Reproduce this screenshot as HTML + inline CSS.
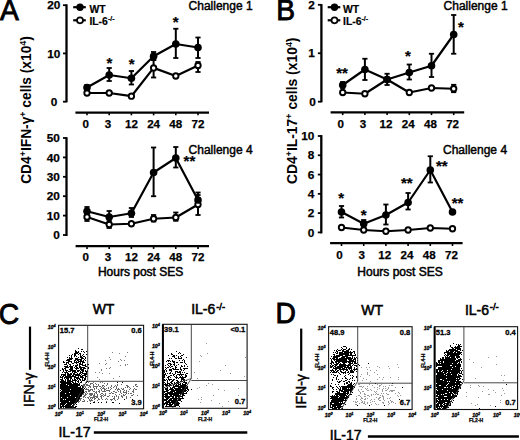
<!DOCTYPE html>
<html><head><meta charset="utf-8"><style>
html,body{margin:0;padding:0;background:#fff;}
svg{display:block;font-family:"Liberation Sans", sans-serif;}
</style></head><body>
<svg width="520" height="440" viewBox="0 0 520 440">
<defs><filter id="soft" x="-5%" y="-5%" width="110%" height="110%"><feGaussianBlur stdDeviation="0.5"/></filter></defs>
<rect width="520" height="440" fill="#fff"/>
<text transform="translate(0.0,20.1) scale(0.94,1)" font-size="30" stroke="#000" stroke-width="0.9">A</text>
<line x1="66.5" y1="4.3" x2="66.5" y2="102.3" stroke="#000" stroke-width="2.3"/>
<line x1="63.0" y1="5.2" x2="66.5" y2="5.2" stroke="#000" stroke-width="1.8"/>
<text x="60.3" y="9.4" font-size="11.8" font-weight="bold" text-anchor="end" stroke="#000" stroke-width="0.25" >20</text>
<line x1="63.0" y1="53.4" x2="66.5" y2="53.4" stroke="#000" stroke-width="1.8"/>
<text x="60.3" y="57.6" font-size="11.8" font-weight="bold" text-anchor="end" stroke="#000" stroke-width="0.25" >10</text>
<line x1="63.0" y1="101.7" x2="66.5" y2="101.7" stroke="#000" stroke-width="1.8"/>
<text x="57.2" y="105.9" font-size="11.8" font-weight="bold" text-anchor="end" stroke="#000" stroke-width="0.25" >0</text>
<line x1="75.4" y1="112.55" x2="209" y2="112.55" stroke="#000" stroke-width="2.3"/>
<line x1="87.0" y1="112.55" x2="87.0" y2="115.35" stroke="#000" stroke-width="1.6"/>
<text x="85.7" y="127.6" font-size="11.6" font-weight="bold" text-anchor="middle" stroke="#000" stroke-width="0.25" >0</text>
<line x1="109.2" y1="112.55" x2="109.2" y2="115.35" stroke="#000" stroke-width="1.6"/>
<text x="107.9" y="127.6" font-size="11.6" font-weight="bold" text-anchor="middle" stroke="#000" stroke-width="0.25" >3</text>
<line x1="131.4" y1="112.55" x2="131.4" y2="115.35" stroke="#000" stroke-width="1.6"/>
<text x="131.4" y="127.6" font-size="11.6" font-weight="bold" text-anchor="middle" stroke="#000" stroke-width="0.25" >12</text>
<line x1="153.6" y1="112.55" x2="153.6" y2="115.35" stroke="#000" stroke-width="1.6"/>
<text x="153.6" y="127.6" font-size="11.6" font-weight="bold" text-anchor="middle" stroke="#000" stroke-width="0.25" >24</text>
<line x1="175.8" y1="112.55" x2="175.8" y2="115.35" stroke="#000" stroke-width="1.6"/>
<text x="175.8" y="127.6" font-size="11.6" font-weight="bold" text-anchor="middle" stroke="#000" stroke-width="0.25" >48</text>
<line x1="198.0" y1="112.55" x2="198.0" y2="115.35" stroke="#000" stroke-width="1.6"/>
<text x="198.0" y="127.6" font-size="11.6" font-weight="bold" text-anchor="middle" stroke="#000" stroke-width="0.25" >72</text>
<line x1="87.0" y1="85" x2="87.0" y2="90" stroke="#000" stroke-width="2.0"/>
<line x1="84.4" y1="85" x2="89.6" y2="85" stroke="#000" stroke-width="1.8"/>
<line x1="84.4" y1="90" x2="89.6" y2="90" stroke="#000" stroke-width="1.8"/>
<line x1="109.2" y1="68" x2="109.2" y2="81" stroke="#000" stroke-width="2.0"/>
<line x1="106.60000000000001" y1="68" x2="111.8" y2="68" stroke="#000" stroke-width="1.8"/>
<line x1="106.60000000000001" y1="81" x2="111.8" y2="81" stroke="#000" stroke-width="1.8"/>
<line x1="131.4" y1="71" x2="131.4" y2="84.5" stroke="#000" stroke-width="2.0"/>
<line x1="128.8" y1="71" x2="134.0" y2="71" stroke="#000" stroke-width="1.8"/>
<line x1="128.8" y1="84.5" x2="134.0" y2="84.5" stroke="#000" stroke-width="1.8"/>
<line x1="153.6" y1="52" x2="153.6" y2="60" stroke="#000" stroke-width="2.0"/>
<line x1="151.0" y1="52" x2="156.2" y2="52" stroke="#000" stroke-width="1.8"/>
<line x1="151.0" y1="60" x2="156.2" y2="60" stroke="#000" stroke-width="1.8"/>
<line x1="175.8" y1="28.75" x2="175.8" y2="58" stroke="#000" stroke-width="2.0"/>
<line x1="173.20000000000002" y1="28.75" x2="178.4" y2="28.75" stroke="#000" stroke-width="1.8"/>
<line x1="173.20000000000002" y1="58" x2="178.4" y2="58" stroke="#000" stroke-width="1.8"/>
<line x1="198.0" y1="37.5" x2="198.0" y2="58" stroke="#000" stroke-width="2.0"/>
<line x1="195.4" y1="37.5" x2="200.6" y2="37.5" stroke="#000" stroke-width="1.8"/>
<line x1="195.4" y1="58" x2="200.6" y2="58" stroke="#000" stroke-width="1.8"/>
<line x1="153.6" y1="60" x2="153.6" y2="77.5" stroke="#000" stroke-width="2.0"/>
<line x1="151.0" y1="60" x2="156.2" y2="60" stroke="#000" stroke-width="1.8"/>
<line x1="151.0" y1="77.5" x2="156.2" y2="77.5" stroke="#000" stroke-width="1.8"/>
<line x1="198.0" y1="62" x2="198.0" y2="72" stroke="#000" stroke-width="2.0"/>
<line x1="195.4" y1="62" x2="200.6" y2="62" stroke="#000" stroke-width="1.8"/>
<line x1="195.4" y1="72" x2="200.6" y2="72" stroke="#000" stroke-width="1.8"/>
<polyline points="87.0,93 109.2,93 131.4,96.2 153.6,67.9 175.8,76.0 198.0,65.5" fill="none" stroke="#000" stroke-width="2.2" stroke-linejoin="round"/>
<polyline points="87.0,87.5 109.2,75 131.4,78.25 153.6,56.25 175.8,44 198.0,47.5" fill="none" stroke="#000" stroke-width="2.2" stroke-linejoin="round"/>
<circle cx="87.0" cy="93" r="2.7" fill="#fff" stroke="#000" stroke-width="1.9"/>
<circle cx="109.2" cy="93" r="2.7" fill="#fff" stroke="#000" stroke-width="1.9"/>
<circle cx="131.4" cy="96.2" r="2.7" fill="#fff" stroke="#000" stroke-width="1.9"/>
<circle cx="153.6" cy="67.9" r="2.7" fill="#fff" stroke="#000" stroke-width="1.9"/>
<circle cx="175.8" cy="76.0" r="2.7" fill="#fff" stroke="#000" stroke-width="1.9"/>
<circle cx="198.0" cy="65.5" r="2.7" fill="#fff" stroke="#000" stroke-width="1.9"/>
<circle cx="87.0" cy="87.5" r="3.8" fill="#000"/>
<circle cx="109.2" cy="75" r="3.8" fill="#000"/>
<circle cx="131.4" cy="78.25" r="3.8" fill="#000"/>
<circle cx="153.6" cy="56.25" r="3.8" fill="#000"/>
<circle cx="175.8" cy="44" r="3.8" fill="#000"/>
<circle cx="198.0" cy="47.5" r="3.8" fill="#000"/>
<text x="109.5" y="67.7" font-size="15" font-weight="bold" text-anchor="middle" stroke="#000" stroke-width="0.2" >*</text>
<text x="131.75" y="68.5" font-size="15" font-weight="bold" text-anchor="middle" stroke="#000" stroke-width="0.2" >*</text>
<text x="175.75" y="27.0" font-size="15" font-weight="bold" text-anchor="middle" stroke="#000" stroke-width="0.2" >*</text>
<line x1="73.2" y1="7.2" x2="85.8" y2="7.2" stroke="#000" stroke-width="2.2"/>
<circle cx="80.0" cy="7.2" r="3.7" fill="#000"/>
<text x="89.4" y="12.7" font-size="10.4" font-weight="bold" text-anchor="start" stroke="#000" stroke-width="0.2" >WT</text>
<line x1="73.2" y1="20.3" x2="85.8" y2="20.3" stroke="#000" stroke-width="2.2"/>
<circle cx="80.0" cy="20.3" r="3.0" fill="#fff" stroke="#000" stroke-width="1.7"/>
<text x="89.4" y="25.4" font-size="10.4" font-weight="bold" stroke="#000" stroke-width="0.2">IL-6<tspan font-size="7" dy="-4">-/-</tspan></text>
<text x="188.6" y="10.2" font-size="12" font-weight="normal" text-anchor="start" stroke="#000" stroke-width="0.45" >Challenge 1</text>
<line x1="66.5" y1="137.2" x2="66.5" y2="236" stroke="#000" stroke-width="2.3"/>
<line x1="63.0" y1="235.0" x2="66.5" y2="235.0" stroke="#000" stroke-width="1.8"/>
<text x="59.8" y="239.2" font-size="11.8" font-weight="bold" text-anchor="end" stroke="#000" stroke-width="0.25" >0</text>
<line x1="63.0" y1="215.6" x2="66.5" y2="215.6" stroke="#000" stroke-width="1.8"/>
<text x="59.8" y="219.79999999999998" font-size="11.8" font-weight="bold" text-anchor="end" stroke="#000" stroke-width="0.25" >10</text>
<line x1="63.0" y1="196.2" x2="66.5" y2="196.2" stroke="#000" stroke-width="1.8"/>
<text x="59.8" y="200.39999999999998" font-size="11.8" font-weight="bold" text-anchor="end" stroke="#000" stroke-width="0.25" >20</text>
<line x1="63.0" y1="176.8" x2="66.5" y2="176.8" stroke="#000" stroke-width="1.8"/>
<text x="59.8" y="181.0" font-size="11.8" font-weight="bold" text-anchor="end" stroke="#000" stroke-width="0.25" >30</text>
<line x1="63.0" y1="157.4" x2="66.5" y2="157.4" stroke="#000" stroke-width="1.8"/>
<text x="59.8" y="161.6" font-size="11.8" font-weight="bold" text-anchor="end" stroke="#000" stroke-width="0.25" >40</text>
<line x1="63.0" y1="138.0" x2="66.5" y2="138.0" stroke="#000" stroke-width="1.8"/>
<text x="59.8" y="142.2" font-size="11.8" font-weight="bold" text-anchor="end" stroke="#000" stroke-width="0.25" >50</text>
<line x1="75.6" y1="246.1" x2="209" y2="246.1" stroke="#000" stroke-width="2.3"/>
<line x1="87.0" y1="246.1" x2="87.0" y2="248.9" stroke="#000" stroke-width="1.6"/>
<text x="85.7" y="260.8" font-size="11.6" font-weight="bold" text-anchor="middle" stroke="#000" stroke-width="0.25" >0</text>
<line x1="109.2" y1="246.1" x2="109.2" y2="248.9" stroke="#000" stroke-width="1.6"/>
<text x="107.9" y="260.8" font-size="11.6" font-weight="bold" text-anchor="middle" stroke="#000" stroke-width="0.25" >3</text>
<line x1="131.4" y1="246.1" x2="131.4" y2="248.9" stroke="#000" stroke-width="1.6"/>
<text x="131.4" y="260.8" font-size="11.6" font-weight="bold" text-anchor="middle" stroke="#000" stroke-width="0.25" >12</text>
<line x1="153.6" y1="246.1" x2="153.6" y2="248.9" stroke="#000" stroke-width="1.6"/>
<text x="153.6" y="260.8" font-size="11.6" font-weight="bold" text-anchor="middle" stroke="#000" stroke-width="0.25" >24</text>
<line x1="175.8" y1="246.1" x2="175.8" y2="248.9" stroke="#000" stroke-width="1.6"/>
<text x="175.8" y="260.8" font-size="11.6" font-weight="bold" text-anchor="middle" stroke="#000" stroke-width="0.25" >48</text>
<line x1="198.0" y1="246.1" x2="198.0" y2="248.9" stroke="#000" stroke-width="1.6"/>
<text x="198.0" y="260.8" font-size="11.6" font-weight="bold" text-anchor="middle" stroke="#000" stroke-width="0.25" >72</text>
<line x1="87.0" y1="207" x2="87.0" y2="215" stroke="#000" stroke-width="2.0"/>
<line x1="84.4" y1="207" x2="89.6" y2="207" stroke="#000" stroke-width="1.8"/>
<line x1="84.4" y1="215" x2="89.6" y2="215" stroke="#000" stroke-width="1.8"/>
<line x1="109.2" y1="211" x2="109.2" y2="222" stroke="#000" stroke-width="2.0"/>
<line x1="106.60000000000001" y1="211" x2="111.8" y2="211" stroke="#000" stroke-width="1.8"/>
<line x1="106.60000000000001" y1="222" x2="111.8" y2="222" stroke="#000" stroke-width="1.8"/>
<line x1="131.4" y1="208" x2="131.4" y2="217" stroke="#000" stroke-width="2.0"/>
<line x1="128.8" y1="208" x2="134.0" y2="208" stroke="#000" stroke-width="1.8"/>
<line x1="128.8" y1="217" x2="134.0" y2="217" stroke="#000" stroke-width="1.8"/>
<line x1="153.6" y1="147.5" x2="153.6" y2="196.25" stroke="#000" stroke-width="2.0"/>
<line x1="151.0" y1="147.5" x2="156.2" y2="147.5" stroke="#000" stroke-width="1.8"/>
<line x1="151.0" y1="196.25" x2="156.2" y2="196.25" stroke="#000" stroke-width="1.8"/>
<line x1="175.8" y1="147" x2="175.8" y2="167.5" stroke="#000" stroke-width="2.0"/>
<line x1="173.20000000000002" y1="147" x2="178.4" y2="147" stroke="#000" stroke-width="1.8"/>
<line x1="173.20000000000002" y1="167.5" x2="178.4" y2="167.5" stroke="#000" stroke-width="1.8"/>
<line x1="198.0" y1="192.5" x2="198.0" y2="205" stroke="#000" stroke-width="2.0"/>
<line x1="195.4" y1="192.5" x2="200.6" y2="192.5" stroke="#000" stroke-width="1.8"/>
<line x1="195.4" y1="205" x2="200.6" y2="205" stroke="#000" stroke-width="1.8"/>
<line x1="87.0" y1="213" x2="87.0" y2="221" stroke="#000" stroke-width="2.0"/>
<line x1="84.4" y1="213" x2="89.6" y2="213" stroke="#000" stroke-width="1.8"/>
<line x1="84.4" y1="221" x2="89.6" y2="221" stroke="#000" stroke-width="1.8"/>
<line x1="109.2" y1="220" x2="109.2" y2="228" stroke="#000" stroke-width="2.0"/>
<line x1="106.60000000000001" y1="220" x2="111.8" y2="220" stroke="#000" stroke-width="1.8"/>
<line x1="106.60000000000001" y1="228" x2="111.8" y2="228" stroke="#000" stroke-width="1.8"/>
<line x1="153.6" y1="215" x2="153.6" y2="221.5" stroke="#000" stroke-width="2.0"/>
<line x1="151.0" y1="215" x2="156.2" y2="215" stroke="#000" stroke-width="1.8"/>
<line x1="151.0" y1="221.5" x2="156.2" y2="221.5" stroke="#000" stroke-width="1.8"/>
<line x1="175.8" y1="212.5" x2="175.8" y2="220.8" stroke="#000" stroke-width="2.0"/>
<line x1="173.20000000000002" y1="212.5" x2="178.4" y2="212.5" stroke="#000" stroke-width="1.8"/>
<line x1="173.20000000000002" y1="220.8" x2="178.4" y2="220.8" stroke="#000" stroke-width="1.8"/>
<line x1="198.0" y1="195" x2="198.0" y2="215" stroke="#000" stroke-width="2.0"/>
<line x1="195.4" y1="195" x2="200.6" y2="195" stroke="#000" stroke-width="1.8"/>
<line x1="195.4" y1="215" x2="200.6" y2="215" stroke="#000" stroke-width="1.8"/>
<polyline points="87.0,217 109.2,224.5 131.4,223.75 153.6,218.75 175.8,217.5 198.0,204.5" fill="none" stroke="#000" stroke-width="2.2" stroke-linejoin="round"/>
<polyline points="87.0,211.25 109.2,217 131.4,213.25 153.6,172.5 175.8,158 198.0,200" fill="none" stroke="#000" stroke-width="2.2" stroke-linejoin="round"/>
<circle cx="87.0" cy="217" r="2.7" fill="#fff" stroke="#000" stroke-width="1.9"/>
<circle cx="109.2" cy="224.5" r="2.7" fill="#fff" stroke="#000" stroke-width="1.9"/>
<circle cx="131.4" cy="223.75" r="2.7" fill="#fff" stroke="#000" stroke-width="1.9"/>
<circle cx="153.6" cy="218.75" r="2.7" fill="#fff" stroke="#000" stroke-width="1.9"/>
<circle cx="175.8" cy="217.5" r="2.7" fill="#fff" stroke="#000" stroke-width="1.9"/>
<circle cx="198.0" cy="204.5" r="2.7" fill="#fff" stroke="#000" stroke-width="1.9"/>
<circle cx="87.0" cy="211.25" r="3.8" fill="#000"/>
<circle cx="109.2" cy="217" r="3.8" fill="#000"/>
<circle cx="131.4" cy="213.25" r="3.8" fill="#000"/>
<circle cx="153.6" cy="172.5" r="3.8" fill="#000"/>
<circle cx="175.8" cy="158" r="3.8" fill="#000"/>
<circle cx="198.0" cy="200" r="3.8" fill="#000"/>
<text x="189.4" y="166.2" font-size="15" font-weight="bold" text-anchor="middle" stroke="#000" stroke-width="0.2" >**</text>
<text x="188.6" y="153.6" font-size="12" font-weight="normal" text-anchor="start" stroke="#000" stroke-width="0.45" >Challenge 4</text>
<text x="140.6" y="275.5" font-size="12" font-weight="normal" text-anchor="middle" stroke="#000" stroke-width="0.5" >Hours post SES</text>
<text transform="translate(31.4,110) rotate(-90) scale(0.985,1)" font-size="14" font-weight="bold" text-anchor="middle">CD4<tspan font-size="9" dy="-5">+</tspan><tspan dy="5">IFN-γ</tspan><tspan font-size="9" dy="-5">+</tspan><tspan dy="5"> cells (x10</tspan><tspan font-size="9" dy="-5">4</tspan><tspan dy="5">)</tspan></text>
<text transform="translate(276.3,19.8) scale(0.94,1)" font-size="30" stroke="#000" stroke-width="0.9">B</text>
<line x1="321.4" y1="4.1" x2="321.4" y2="102.3" stroke="#000" stroke-width="2.3"/>
<line x1="317.9" y1="4.8" x2="321.4" y2="4.8" stroke="#000" stroke-width="1.8"/>
<text x="314.8" y="9.0" font-size="11.8" font-weight="bold" text-anchor="end" stroke="#000" stroke-width="0.25" >2</text>
<line x1="317.9" y1="53.25" x2="321.4" y2="53.25" stroke="#000" stroke-width="1.8"/>
<text x="314.8" y="57.45" font-size="11.8" font-weight="bold" text-anchor="end" stroke="#000" stroke-width="0.25" >1</text>
<line x1="317.9" y1="101.7" x2="321.4" y2="101.7" stroke="#000" stroke-width="1.8"/>
<text x="315.8" y="105.9" font-size="11.8" font-weight="bold" text-anchor="end" stroke="#000" stroke-width="0.25" >0</text>
<line x1="330.6" y1="112.3" x2="464.2" y2="112.3" stroke="#000" stroke-width="2.3"/>
<line x1="342.7" y1="112.3" x2="342.7" y2="115.1" stroke="#000" stroke-width="1.6"/>
<text x="340.7" y="128.2" font-size="11.6" font-weight="bold" text-anchor="middle" stroke="#000" stroke-width="0.25" >0</text>
<line x1="364.9" y1="112.3" x2="364.9" y2="115.1" stroke="#000" stroke-width="1.6"/>
<text x="362.9" y="128.2" font-size="11.6" font-weight="bold" text-anchor="middle" stroke="#000" stroke-width="0.25" >3</text>
<line x1="387.09999999999997" y1="112.3" x2="387.09999999999997" y2="115.1" stroke="#000" stroke-width="1.6"/>
<text x="385.99999999999994" y="128.2" font-size="11.6" font-weight="bold" text-anchor="middle" stroke="#000" stroke-width="0.25" >12</text>
<line x1="409.29999999999995" y1="112.3" x2="409.29999999999995" y2="115.1" stroke="#000" stroke-width="1.6"/>
<text x="408.19999999999993" y="128.2" font-size="11.6" font-weight="bold" text-anchor="middle" stroke="#000" stroke-width="0.25" >24</text>
<line x1="431.5" y1="112.3" x2="431.5" y2="115.1" stroke="#000" stroke-width="1.6"/>
<text x="430.4" y="128.2" font-size="11.6" font-weight="bold" text-anchor="middle" stroke="#000" stroke-width="0.25" >48</text>
<line x1="453.7" y1="112.3" x2="453.7" y2="115.1" stroke="#000" stroke-width="1.6"/>
<text x="452.59999999999997" y="128.2" font-size="11.6" font-weight="bold" text-anchor="middle" stroke="#000" stroke-width="0.25" >72</text>
<line x1="342.7" y1="82" x2="342.7" y2="88" stroke="#000" stroke-width="2.0"/>
<line x1="340.09999999999997" y1="82" x2="345.3" y2="82" stroke="#000" stroke-width="1.8"/>
<line x1="340.09999999999997" y1="88" x2="345.3" y2="88" stroke="#000" stroke-width="1.8"/>
<line x1="364.9" y1="58.75" x2="364.9" y2="80" stroke="#000" stroke-width="2.0"/>
<line x1="362.29999999999995" y1="58.75" x2="367.5" y2="58.75" stroke="#000" stroke-width="1.8"/>
<line x1="362.29999999999995" y1="80" x2="367.5" y2="80" stroke="#000" stroke-width="1.8"/>
<line x1="387.09999999999997" y1="73.75" x2="387.09999999999997" y2="85" stroke="#000" stroke-width="2.0"/>
<line x1="384.49999999999994" y1="73.75" x2="389.7" y2="73.75" stroke="#000" stroke-width="1.8"/>
<line x1="384.49999999999994" y1="85" x2="389.7" y2="85" stroke="#000" stroke-width="1.8"/>
<line x1="409.29999999999995" y1="64.5" x2="409.29999999999995" y2="79.5" stroke="#000" stroke-width="2.0"/>
<line x1="406.69999999999993" y1="64.5" x2="411.9" y2="64.5" stroke="#000" stroke-width="1.8"/>
<line x1="406.69999999999993" y1="79.5" x2="411.9" y2="79.5" stroke="#000" stroke-width="1.8"/>
<line x1="431.5" y1="53.75" x2="431.5" y2="77" stroke="#000" stroke-width="2.0"/>
<line x1="428.9" y1="53.75" x2="434.1" y2="53.75" stroke="#000" stroke-width="1.8"/>
<line x1="428.9" y1="77" x2="434.1" y2="77" stroke="#000" stroke-width="1.8"/>
<line x1="453.7" y1="15" x2="453.7" y2="53.75" stroke="#000" stroke-width="2.0"/>
<line x1="451.09999999999997" y1="15" x2="456.3" y2="15" stroke="#000" stroke-width="1.8"/>
<line x1="451.09999999999997" y1="53.75" x2="456.3" y2="53.75" stroke="#000" stroke-width="1.8"/>
<line x1="453.7" y1="84.8" x2="453.7" y2="92.2" stroke="#000" stroke-width="2.0"/>
<line x1="451.09999999999997" y1="84.8" x2="456.3" y2="84.8" stroke="#000" stroke-width="1.8"/>
<line x1="451.09999999999997" y1="92.2" x2="456.3" y2="92.2" stroke="#000" stroke-width="1.8"/>
<polyline points="342.7,92.5 364.9,93.75 387.09999999999997,79.5 409.29999999999995,92.5 431.5,88 453.7,88.75" fill="none" stroke="#000" stroke-width="2.2" stroke-linejoin="round"/>
<polyline points="342.7,85 364.9,69.5 387.09999999999997,79.5 409.29999999999995,72.5 431.5,65.75 453.7,34.5" fill="none" stroke="#000" stroke-width="2.2" stroke-linejoin="round"/>
<circle cx="342.7" cy="92.5" r="2.7" fill="#fff" stroke="#000" stroke-width="1.9"/>
<circle cx="364.9" cy="93.75" r="2.7" fill="#fff" stroke="#000" stroke-width="1.9"/>
<circle cx="387.09999999999997" cy="79.5" r="2.7" fill="#fff" stroke="#000" stroke-width="1.9"/>
<circle cx="409.29999999999995" cy="92.5" r="2.7" fill="#fff" stroke="#000" stroke-width="1.9"/>
<circle cx="431.5" cy="88" r="2.7" fill="#fff" stroke="#000" stroke-width="1.9"/>
<circle cx="453.7" cy="88.75" r="2.7" fill="#fff" stroke="#000" stroke-width="1.9"/>
<circle cx="342.7" cy="85" r="3.8" fill="#000"/>
<circle cx="364.9" cy="69.5" r="3.8" fill="#000"/>
<circle cx="387.09999999999997" cy="79.5" r="3.8" fill="#000"/>
<circle cx="409.29999999999995" cy="72.5" r="3.8" fill="#000"/>
<circle cx="431.5" cy="65.75" r="3.8" fill="#000"/>
<circle cx="453.7" cy="34.5" r="3.8" fill="#000"/>
<text x="342.0" y="78.0" font-size="15" font-weight="bold" text-anchor="middle" stroke="#000" stroke-width="0.2" >**</text>
<text x="408" y="61.0" font-size="15" font-weight="bold" text-anchor="middle" stroke="#000" stroke-width="0.2" >*</text>
<text x="460.8" y="31.5" font-size="15" font-weight="bold" text-anchor="middle" stroke="#000" stroke-width="0.2" >*</text>
<line x1="327.7" y1="7.2" x2="340.3" y2="7.2" stroke="#000" stroke-width="2.2"/>
<circle cx="334.5" cy="7.2" r="3.7" fill="#000"/>
<text x="343.0" y="12.7" font-size="10.4" font-weight="bold" text-anchor="start" stroke="#000" stroke-width="0.2" >WT</text>
<line x1="327.7" y1="20.3" x2="340.3" y2="20.3" stroke="#000" stroke-width="2.2"/>
<circle cx="334.5" cy="20.3" r="3.0" fill="#fff" stroke="#000" stroke-width="1.7"/>
<text x="343.0" y="25.4" font-size="10.4" font-weight="bold" stroke="#000" stroke-width="0.2">IL-6<tspan font-size="7" dy="-4">-/-</tspan></text>
<text x="443.6" y="10.2" font-size="12" font-weight="normal" text-anchor="start" stroke="#000" stroke-width="0.45" >Challenge 1</text>
<line x1="321.3" y1="135.1" x2="321.3" y2="233.4" stroke="#000" stroke-width="2.3"/>
<line x1="317.8" y1="232.4" x2="321.3" y2="232.4" stroke="#000" stroke-width="1.8"/>
<text x="314.3" y="236.6" font-size="11.8" font-weight="bold" text-anchor="end" stroke="#000" stroke-width="0.25" >0</text>
<line x1="317.8" y1="213.12" x2="321.3" y2="213.12" stroke="#000" stroke-width="1.8"/>
<text x="314.3" y="217.32" font-size="11.8" font-weight="bold" text-anchor="end" stroke="#000" stroke-width="0.25" >2</text>
<line x1="317.8" y1="193.84" x2="321.3" y2="193.84" stroke="#000" stroke-width="1.8"/>
<text x="314.3" y="198.04" font-size="11.8" font-weight="bold" text-anchor="end" stroke="#000" stroke-width="0.25" >4</text>
<line x1="317.8" y1="174.56" x2="321.3" y2="174.56" stroke="#000" stroke-width="1.8"/>
<text x="314.3" y="178.76" font-size="11.8" font-weight="bold" text-anchor="end" stroke="#000" stroke-width="0.25" >6</text>
<line x1="317.8" y1="155.28" x2="321.3" y2="155.28" stroke="#000" stroke-width="1.8"/>
<text x="314.3" y="159.48" font-size="11.8" font-weight="bold" text-anchor="end" stroke="#000" stroke-width="0.25" >8</text>
<line x1="317.8" y1="136.0" x2="321.3" y2="136.0" stroke="#000" stroke-width="1.8"/>
<text x="314.3" y="140.2" font-size="11.8" font-weight="bold" text-anchor="end" stroke="#000" stroke-width="0.25" >10</text>
<line x1="330.1" y1="243.2" x2="462.6" y2="243.2" stroke="#000" stroke-width="2.3"/>
<line x1="341.5" y1="243.2" x2="341.5" y2="246.0" stroke="#000" stroke-width="1.6"/>
<text x="339.5" y="258.5" font-size="11.6" font-weight="bold" text-anchor="middle" stroke="#000" stroke-width="0.25" >0</text>
<line x1="363.7" y1="243.2" x2="363.7" y2="246.0" stroke="#000" stroke-width="1.6"/>
<text x="361.7" y="258.5" font-size="11.6" font-weight="bold" text-anchor="middle" stroke="#000" stroke-width="0.25" >3</text>
<line x1="385.9" y1="243.2" x2="385.9" y2="246.0" stroke="#000" stroke-width="1.6"/>
<text x="384.79999999999995" y="258.5" font-size="11.6" font-weight="bold" text-anchor="middle" stroke="#000" stroke-width="0.25" >12</text>
<line x1="408.1" y1="243.2" x2="408.1" y2="246.0" stroke="#000" stroke-width="1.6"/>
<text x="407.0" y="258.5" font-size="11.6" font-weight="bold" text-anchor="middle" stroke="#000" stroke-width="0.25" >24</text>
<line x1="430.3" y1="243.2" x2="430.3" y2="246.0" stroke="#000" stroke-width="1.6"/>
<text x="429.2" y="258.5" font-size="11.6" font-weight="bold" text-anchor="middle" stroke="#000" stroke-width="0.25" >48</text>
<line x1="452.5" y1="243.2" x2="452.5" y2="246.0" stroke="#000" stroke-width="1.6"/>
<text x="451.4" y="258.5" font-size="11.6" font-weight="bold" text-anchor="middle" stroke="#000" stroke-width="0.25" >72</text>
<line x1="341.5" y1="206" x2="341.5" y2="217.5" stroke="#000" stroke-width="2.0"/>
<line x1="338.9" y1="206" x2="344.1" y2="206" stroke="#000" stroke-width="1.8"/>
<line x1="338.9" y1="217.5" x2="344.1" y2="217.5" stroke="#000" stroke-width="1.8"/>
<line x1="363.7" y1="220" x2="363.7" y2="227" stroke="#000" stroke-width="2.0"/>
<line x1="361.09999999999997" y1="220" x2="366.3" y2="220" stroke="#000" stroke-width="1.8"/>
<line x1="361.09999999999997" y1="227" x2="366.3" y2="227" stroke="#000" stroke-width="1.8"/>
<line x1="385.9" y1="204.5" x2="385.9" y2="224.5" stroke="#000" stroke-width="2.0"/>
<line x1="383.29999999999995" y1="204.5" x2="388.5" y2="204.5" stroke="#000" stroke-width="1.8"/>
<line x1="383.29999999999995" y1="224.5" x2="388.5" y2="224.5" stroke="#000" stroke-width="1.8"/>
<line x1="408.1" y1="193" x2="408.1" y2="209.5" stroke="#000" stroke-width="2.0"/>
<line x1="405.5" y1="193" x2="410.70000000000005" y2="193" stroke="#000" stroke-width="1.8"/>
<line x1="405.5" y1="209.5" x2="410.70000000000005" y2="209.5" stroke="#000" stroke-width="1.8"/>
<line x1="430.3" y1="156.25" x2="430.3" y2="182.5" stroke="#000" stroke-width="2.0"/>
<line x1="427.7" y1="156.25" x2="432.90000000000003" y2="156.25" stroke="#000" stroke-width="1.8"/>
<line x1="427.7" y1="182.5" x2="432.90000000000003" y2="182.5" stroke="#000" stroke-width="1.8"/>
<polyline points="341.5,227.5 363.7,230 385.9,231.25 408.1,230 430.3,228 452.5,228.75" fill="none" stroke="#000" stroke-width="2.2" stroke-linejoin="round"/>
<polyline points="341.5,212 363.7,223.75 385.9,215 408.1,202.5 430.3,170 452.5,212" fill="none" stroke="#000" stroke-width="2.2" stroke-linejoin="round"/>
<circle cx="341.5" cy="227.5" r="2.7" fill="#fff" stroke="#000" stroke-width="1.9"/>
<circle cx="363.7" cy="230" r="2.7" fill="#fff" stroke="#000" stroke-width="1.9"/>
<circle cx="385.9" cy="231.25" r="2.7" fill="#fff" stroke="#000" stroke-width="1.9"/>
<circle cx="408.1" cy="230" r="2.7" fill="#fff" stroke="#000" stroke-width="1.9"/>
<circle cx="430.3" cy="228" r="2.7" fill="#fff" stroke="#000" stroke-width="1.9"/>
<circle cx="452.5" cy="228.75" r="2.7" fill="#fff" stroke="#000" stroke-width="1.9"/>
<circle cx="341.5" cy="212" r="3.8" fill="#000"/>
<circle cx="363.7" cy="223.75" r="3.8" fill="#000"/>
<circle cx="385.9" cy="215" r="3.8" fill="#000"/>
<circle cx="408.1" cy="202.5" r="3.8" fill="#000"/>
<circle cx="430.3" cy="170" r="3.8" fill="#000"/>
<circle cx="452.5" cy="212" r="3.8" fill="#000"/>
<text x="341.25" y="203.0" font-size="15" font-weight="bold" text-anchor="middle" stroke="#000" stroke-width="0.2" >*</text>
<text x="363.75" y="220.0" font-size="15" font-weight="bold" text-anchor="middle" stroke="#000" stroke-width="0.2" >*</text>
<text x="406.75" y="188.0" font-size="15" font-weight="bold" text-anchor="middle" stroke="#000" stroke-width="0.2" >**</text>
<text x="441.75" y="171.25" font-size="15" font-weight="bold" text-anchor="middle" stroke="#000" stroke-width="0.2" >**</text>
<text x="457.5" y="208.0" font-size="15" font-weight="bold" text-anchor="middle" stroke="#000" stroke-width="0.2" >**</text>
<text x="443.0" y="153.6" font-size="12" font-weight="normal" text-anchor="start" stroke="#000" stroke-width="0.45" >Challenge 4</text>
<text x="400" y="275.5" font-size="12" font-weight="normal" text-anchor="middle" stroke="#000" stroke-width="0.5" >Hours post SES</text>
<text transform="translate(297,110.8) rotate(-90) scale(0.992,1)" font-size="14" font-weight="bold" text-anchor="middle">CD4<tspan font-size="9" dy="-5">+</tspan><tspan dy="5">IL-17</tspan><tspan font-size="9" dy="-5">+</tspan><tspan dy="5"> cells (x10</tspan><tspan font-size="9" dy="-5">4</tspan><tspan dy="5">)</tspan></text>
<text transform="translate(-1.35,324.15) scale(0.94,1)" font-size="30" stroke="#000" stroke-width="0.9">C</text>
<text x="103.55" y="314.4" font-size="14" font-weight="normal" text-anchor="middle" stroke="#000" stroke-width="0.55" >WT</text>
<text x="191.2" y="314.4" font-size="14" stroke="#000" stroke-width="0.55">IL-6<tspan font-size="9.5" dx="0.8" dy="-4.5">-/-</tspan></text>
<path d="M112 352h1v1h-1zM127 352h1v1h-1zM119 353h1v1h-1zM125 356h1v1h-1zM109 357h1v1h-1zM110 359h1v1h-1zM120 359h1v1h-1zM105 360h1v1h-1zM121 360h1v1h-1zM124 360h1v1h-1zM118 361h1v1h-1zM99 363h1v1h-1zM106 363h1v1h-1zM105 364h1v1h-1zM125 364h1v1h-1zM127 364h1v1h-1zM120 365h1v1h-1zM125 365h1v1h-1zM110 367h1v1h-1zM106 368h1v1h-1zM109 368h1v1h-1zM101 369h1v1h-1zM101 370h1v1h-1zM95 372h1v1h-1zM99 372h1v1h-1zM102 373h1v1h-1zM109 373h1v1h-1zM119 376h1v1h-1zM97 377h1v1h-1zM113 378h1v1h-1zM99 379h1v1h-1zM89 381h1v1h-1zM88 382h1v1h-1zM93 382h1v1h-1zM100 382h1v1h-1zM102 382h1v1h-1z" fill="#000" fill-opacity="0.5" shape-rendering="crispEdges" filter="url(#soft)"/>
<path d="M90 383h1v1h-1zM91 383h1v1h-1zM92 383h1v1h-1zM95 383h1v1h-1zM104 383h1v1h-1zM107 383h1v1h-1zM83 384h1v1h-1zM84 384h1v1h-1zM86 384h1v1h-1zM87 384h1v1h-1zM90 384h1v1h-1zM93 384h1v1h-1zM96 384h1v1h-1zM98 384h1v1h-1zM107 384h1v1h-1zM117 384h1v1h-1zM121 384h1v1h-1zM135 384h1v1h-1zM136 384h1v1h-1zM82 385h1v1h-1zM83 385h1v1h-1zM86 385h1v1h-1zM87 385h1v1h-1zM88 385h1v1h-1zM89 385h1v1h-1zM93 385h1v1h-1zM98 385h1v1h-1zM102 385h1v1h-1zM103 385h1v1h-1zM106 385h1v1h-1zM111 385h1v1h-1zM115 385h1v1h-1zM117 385h1v1h-1zM126 385h1v1h-1zM127 385h1v1h-1zM135 385h1v1h-1zM83 386h1v1h-1zM85 386h1v1h-1zM89 386h1v1h-1zM90 386h1v1h-1zM93 386h1v1h-1zM94 386h1v1h-1zM95 386h1v1h-1zM96 386h1v1h-1zM97 386h1v1h-1zM99 386h1v1h-1zM100 386h1v1h-1zM102 386h1v1h-1zM104 386h1v1h-1zM111 386h1v1h-1zM114 386h1v1h-1zM116 386h1v1h-1zM127 386h1v1h-1zM128 386h1v1h-1zM133 386h1v1h-1zM136 386h1v1h-1zM137 386h1v1h-1zM85 387h1v1h-1zM88 387h1v1h-1zM90 387h1v1h-1zM93 387h1v1h-1zM96 387h1v1h-1zM101 387h1v1h-1zM103 387h1v1h-1zM108 387h1v1h-1zM110 387h1v1h-1zM113 387h1v1h-1zM116 387h1v1h-1zM125 387h1v1h-1zM127 387h1v1h-1zM129 387h1v1h-1zM86 388h1v1h-1zM94 388h1v1h-1zM96 388h1v1h-1zM100 388h1v1h-1zM102 388h1v1h-1zM103 388h1v1h-1zM104 388h1v1h-1zM106 388h1v1h-1zM108 388h1v1h-1zM111 388h1v1h-1zM116 388h1v1h-1zM118 388h1v1h-1zM121 388h1v1h-1zM123 388h1v1h-1zM130 388h1v1h-1zM134 388h1v1h-1zM85 389h1v1h-1zM86 389h1v1h-1zM87 389h1v1h-1zM88 389h1v1h-1zM90 389h1v1h-1zM91 389h1v1h-1zM92 389h1v1h-1zM94 389h1v1h-1zM98 389h1v1h-1zM101 389h1v1h-1zM104 389h1v1h-1zM105 389h1v1h-1zM110 389h1v1h-1zM115 389h1v1h-1zM117 389h1v1h-1zM118 389h1v1h-1zM119 389h1v1h-1zM122 389h1v1h-1zM123 389h1v1h-1zM129 389h1v1h-1zM133 389h1v1h-1zM135 389h1v1h-1zM136 389h1v1h-1zM88 390h1v1h-1zM89 390h1v1h-1zM90 390h1v1h-1zM92 390h1v1h-1zM99 390h1v1h-1zM101 390h1v1h-1zM104 390h1v1h-1zM106 390h1v1h-1zM107 390h1v1h-1zM108 390h1v1h-1zM109 390h1v1h-1zM117 390h1v1h-1zM120 390h1v1h-1zM124 390h1v1h-1zM126 390h1v1h-1zM133 390h1v1h-1zM85 391h1v1h-1zM86 391h1v1h-1zM88 391h1v1h-1zM89 391h1v1h-1zM93 391h1v1h-1zM94 391h1v1h-1zM96 391h1v1h-1zM98 391h1v1h-1zM99 391h1v1h-1zM102 391h1v1h-1zM103 391h1v1h-1zM104 391h1v1h-1zM105 391h1v1h-1zM109 391h1v1h-1zM113 391h1v1h-1zM114 391h1v1h-1zM118 391h1v1h-1zM120 391h1v1h-1zM123 391h1v1h-1zM126 391h1v1h-1zM128 391h1v1h-1zM132 391h1v1h-1zM133 391h1v1h-1zM84 392h1v1h-1zM86 392h1v1h-1zM95 392h1v1h-1zM96 392h1v1h-1zM99 392h1v1h-1zM111 392h1v1h-1zM115 392h1v1h-1zM116 392h1v1h-1zM120 392h1v1h-1zM123 392h1v1h-1zM124 392h1v1h-1zM125 392h1v1h-1zM126 392h1v1h-1zM133 392h1v1h-1zM83 393h1v1h-1zM85 393h1v1h-1zM87 393h1v1h-1zM89 393h1v1h-1zM90 393h1v1h-1zM91 393h1v1h-1zM92 393h1v1h-1zM94 393h1v1h-1zM96 393h1v1h-1zM101 393h1v1h-1zM102 393h1v1h-1zM105 393h1v1h-1zM109 393h1v1h-1zM110 393h1v1h-1zM112 393h1v1h-1zM113 393h1v1h-1zM121 393h1v1h-1zM126 393h1v1h-1zM128 393h1v1h-1zM130 393h1v1h-1zM131 393h1v1h-1zM82 394h1v1h-1zM83 394h1v1h-1zM85 394h1v1h-1zM86 394h1v1h-1zM89 394h1v1h-1zM90 394h1v1h-1zM91 394h1v1h-1zM92 394h1v1h-1zM94 394h1v1h-1zM97 394h1v1h-1zM100 394h1v1h-1zM103 394h1v1h-1zM105 394h1v1h-1zM115 394h1v1h-1zM119 394h1v1h-1zM123 394h1v1h-1zM125 394h1v1h-1zM133 394h1v1h-1zM84 395h1v1h-1zM85 395h1v1h-1zM90 395h1v1h-1zM91 395h1v1h-1zM93 395h1v1h-1zM94 395h1v1h-1zM97 395h1v1h-1zM101 395h1v1h-1zM102 395h1v1h-1zM104 395h1v1h-1zM105 395h1v1h-1zM109 395h1v1h-1zM116 395h1v1h-1zM121 395h1v1h-1zM123 395h1v1h-1zM124 395h1v1h-1zM131 395h1v1h-1zM132 395h1v1h-1zM137 395h1v1h-1zM81 396h1v1h-1zM83 396h1v1h-1zM84 396h1v1h-1zM89 396h1v1h-1zM93 396h1v1h-1zM94 396h1v1h-1zM95 396h1v1h-1zM96 396h1v1h-1zM97 396h1v1h-1zM100 396h1v1h-1zM101 396h1v1h-1zM103 396h1v1h-1zM107 396h1v1h-1zM108 396h1v1h-1zM112 396h1v1h-1zM114 396h1v1h-1zM116 396h1v1h-1zM118 396h1v1h-1zM121 396h1v1h-1zM122 396h1v1h-1zM126 396h1v1h-1zM83 397h1v1h-1zM85 397h1v1h-1zM87 397h1v1h-1zM88 397h1v1h-1zM90 397h1v1h-1zM91 397h1v1h-1zM92 397h1v1h-1zM93 397h1v1h-1zM94 397h1v1h-1zM96 397h1v1h-1zM97 397h1v1h-1zM101 397h1v1h-1zM114 397h1v1h-1zM118 397h1v1h-1zM122 397h1v1h-1zM126 397h1v1h-1zM130 397h1v1h-1zM80 398h1v1h-1zM81 398h1v1h-1zM88 398h1v1h-1zM90 398h1v1h-1zM92 398h1v1h-1zM94 398h1v1h-1zM95 398h1v1h-1zM98 398h1v1h-1zM101 398h1v1h-1zM106 398h1v1h-1zM113 398h1v1h-1zM114 398h1v1h-1zM118 398h1v1h-1zM126 398h1v1h-1zM79 399h1v1h-1zM80 399h1v1h-1zM83 399h1v1h-1zM89 399h1v1h-1zM91 399h1v1h-1zM94 399h1v1h-1zM98 399h1v1h-1zM99 399h1v1h-1zM102 399h1v1h-1zM105 399h1v1h-1zM107 399h1v1h-1zM110 399h1v1h-1zM111 399h1v1h-1zM112 399h1v1h-1zM114 399h1v1h-1zM117 399h1v1h-1zM80 400h1v1h-1zM84 400h1v1h-1zM89 400h1v1h-1zM90 400h1v1h-1zM91 400h1v1h-1zM92 400h1v1h-1zM97 400h1v1h-1zM111 400h1v1h-1zM115 400h1v1h-1zM78 401h1v1h-1zM79 401h1v1h-1zM82 401h1v1h-1zM83 401h1v1h-1zM84 401h1v1h-1zM87 401h1v1h-1zM90 401h1v1h-1zM94 401h1v1h-1zM106 401h1v1h-1zM78 402h1v1h-1z" fill="#000" fill-opacity="0.6" shape-rendering="crispEdges" filter="url(#soft)"/>
<path d="M78 348h1v1h-1zM81 349h1v1h-1zM82 349h1v1h-1zM75 350h1v1h-1zM75 351h1v1h-1zM76 351h1v1h-1zM78 351h1v1h-1zM81 351h1v1h-1zM83 351h1v1h-1zM86 351h1v1h-1zM75 352h1v1h-1zM76 352h1v1h-1zM77 352h1v1h-1zM78 352h1v1h-1zM84 352h1v1h-1zM74 353h1v1h-1zM75 353h1v1h-1zM76 353h1v1h-1zM77 353h1v1h-1zM79 353h1v1h-1zM80 353h1v1h-1zM72 354h1v1h-1zM74 354h1v1h-1zM75 354h1v1h-1zM78 354h1v1h-1zM80 354h1v1h-1zM83 354h1v1h-1zM86 354h1v1h-1zM69 355h1v1h-1zM71 355h1v1h-1zM74 355h1v1h-1zM75 355h1v1h-1zM80 355h1v1h-1zM82 355h1v1h-1zM71 356h1v1h-1zM74 356h1v1h-1zM76 356h1v1h-1zM80 356h1v1h-1zM81 356h1v1h-1zM83 356h1v1h-1zM84 356h1v1h-1zM67 357h1v1h-1zM69 357h1v1h-1zM71 357h1v1h-1zM78 357h1v1h-1zM80 357h1v1h-1zM81 357h1v1h-1zM82 357h1v1h-1zM85 357h1v1h-1zM69 358h1v1h-1zM70 358h1v1h-1zM71 358h1v1h-1zM72 358h1v1h-1zM75 358h1v1h-1zM76 358h1v1h-1zM77 358h1v1h-1zM81 358h1v1h-1zM82 358h1v1h-1zM83 358h1v1h-1zM85 358h1v1h-1zM67 359h1v1h-1zM68 359h1v1h-1zM69 359h1v1h-1zM70 359h1v1h-1zM71 359h1v1h-1zM75 359h1v1h-1zM76 359h1v1h-1zM77 359h1v1h-1zM78 359h1v1h-1zM79 359h1v1h-1zM80 359h1v1h-1zM81 359h1v1h-1zM84 359h1v1h-1zM66 360h1v1h-1zM67 360h1v1h-1zM68 360h1v1h-1zM69 360h1v1h-1zM74 360h1v1h-1zM75 360h1v1h-1zM77 360h1v1h-1zM78 360h1v1h-1zM80 360h1v1h-1zM81 360h1v1h-1zM83 360h1v1h-1zM85 360h1v1h-1zM63 361h1v1h-1zM68 361h1v1h-1zM69 361h1v1h-1zM70 361h1v1h-1zM71 361h1v1h-1zM74 361h1v1h-1zM76 361h1v1h-1zM78 361h1v1h-1zM79 361h1v1h-1zM80 361h1v1h-1zM81 361h1v1h-1zM82 361h1v1h-1zM83 361h1v1h-1zM63 362h1v1h-1zM64 362h1v1h-1zM66 362h1v1h-1zM67 362h1v1h-1zM68 362h1v1h-1zM71 362h1v1h-1zM74 362h1v1h-1zM75 362h1v1h-1zM76 362h1v1h-1zM77 362h1v1h-1zM78 362h1v1h-1zM80 362h1v1h-1zM82 362h1v1h-1zM83 362h1v1h-1zM84 362h1v1h-1zM66 363h1v1h-1zM68 363h1v1h-1zM72 363h1v1h-1zM73 363h1v1h-1zM76 363h1v1h-1zM79 363h1v1h-1zM80 363h1v1h-1zM82 363h1v1h-1zM64 364h1v1h-1zM65 364h1v1h-1zM66 364h1v1h-1zM69 364h1v1h-1zM70 364h1v1h-1zM77 364h1v1h-1zM79 364h1v1h-1zM80 364h1v1h-1zM81 364h1v1h-1zM82 364h1v1h-1zM85 364h1v1h-1zM87 364h1v1h-1zM88 364h1v1h-1zM67 365h1v1h-1zM70 365h1v1h-1zM73 365h1v1h-1zM75 365h1v1h-1zM76 365h1v1h-1zM77 365h1v1h-1zM79 365h1v1h-1zM82 365h1v1h-1zM83 365h1v1h-1zM84 365h1v1h-1zM85 365h1v1h-1zM64 366h1v1h-1zM65 366h1v1h-1zM66 366h1v1h-1zM67 366h1v1h-1zM69 366h1v1h-1zM70 366h1v1h-1zM71 366h1v1h-1zM72 366h1v1h-1zM75 366h1v1h-1zM76 366h1v1h-1zM79 366h1v1h-1zM80 366h1v1h-1zM85 366h1v1h-1zM86 366h1v1h-1zM65 367h1v1h-1zM66 367h1v1h-1zM67 367h1v1h-1zM68 367h1v1h-1zM70 367h1v1h-1zM71 367h1v1h-1zM72 367h1v1h-1zM74 367h1v1h-1zM76 367h1v1h-1zM77 367h1v1h-1zM79 367h1v1h-1zM80 367h1v1h-1zM81 367h1v1h-1zM82 367h1v1h-1zM83 367h1v1h-1zM84 367h1v1h-1zM88 367h1v1h-1zM62 368h1v1h-1zM64 368h1v1h-1zM65 368h1v1h-1zM70 368h1v1h-1zM71 368h1v1h-1zM72 368h1v1h-1zM75 368h1v1h-1zM76 368h1v1h-1zM77 368h1v1h-1zM78 368h1v1h-1zM80 368h1v1h-1zM81 368h1v1h-1zM83 368h1v1h-1zM84 368h1v1h-1zM85 368h1v1h-1zM88 368h1v1h-1zM62 369h1v1h-1zM63 369h1v1h-1zM65 369h1v1h-1zM69 369h1v1h-1zM70 369h1v1h-1zM71 369h1v1h-1zM72 369h1v1h-1zM76 369h1v1h-1zM80 369h1v1h-1zM81 369h1v1h-1zM82 369h1v1h-1zM83 369h1v1h-1zM60 370h1v1h-1zM63 370h1v1h-1zM65 370h1v1h-1zM66 370h1v1h-1zM67 370h1v1h-1zM70 370h1v1h-1zM71 370h1v1h-1zM72 370h1v1h-1zM73 370h1v1h-1zM74 370h1v1h-1zM75 370h1v1h-1zM77 370h1v1h-1zM78 370h1v1h-1zM79 370h1v1h-1zM81 370h1v1h-1zM82 370h1v1h-1zM83 370h1v1h-1zM85 370h1v1h-1zM87 370h1v1h-1zM63 371h1v1h-1zM66 371h1v1h-1zM68 371h1v1h-1zM69 371h1v1h-1zM70 371h1v1h-1zM72 371h1v1h-1zM73 371h1v1h-1zM74 371h1v1h-1zM75 371h1v1h-1zM77 371h1v1h-1zM78 371h1v1h-1zM80 371h1v1h-1zM82 371h1v1h-1zM83 371h1v1h-1zM85 371h1v1h-1zM86 371h1v1h-1zM87 371h1v1h-1zM62 372h1v1h-1zM64 372h1v1h-1zM65 372h1v1h-1zM66 372h1v1h-1zM67 372h1v1h-1zM72 372h1v1h-1zM74 372h1v1h-1zM75 372h1v1h-1zM76 372h1v1h-1zM80 372h1v1h-1zM81 372h1v1h-1zM82 372h1v1h-1zM86 372h1v1h-1zM65 373h1v1h-1zM67 373h1v1h-1zM68 373h1v1h-1zM70 373h1v1h-1zM71 373h1v1h-1zM73 373h1v1h-1zM74 373h1v1h-1zM77 373h1v1h-1zM79 373h1v1h-1zM80 373h1v1h-1zM82 373h1v1h-1zM83 373h1v1h-1zM84 373h1v1h-1zM85 373h1v1h-1zM86 373h1v1h-1zM61 374h1v1h-1zM62 374h1v1h-1zM63 374h1v1h-1zM64 374h1v1h-1zM65 374h1v1h-1zM67 374h1v1h-1zM68 374h1v1h-1zM69 374h1v1h-1zM70 374h1v1h-1zM71 374h1v1h-1zM73 374h1v1h-1zM74 374h1v1h-1zM75 374h1v1h-1zM76 374h1v1h-1zM77 374h1v1h-1zM78 374h1v1h-1zM79 374h1v1h-1zM81 374h1v1h-1zM84 374h1v1h-1zM85 374h1v1h-1zM86 374h1v1h-1zM61 375h1v1h-1zM63 375h1v1h-1zM64 375h1v1h-1zM65 375h1v1h-1zM67 375h1v1h-1zM68 375h1v1h-1zM69 375h1v1h-1zM70 375h1v1h-1zM72 375h1v1h-1zM73 375h1v1h-1zM75 375h1v1h-1zM76 375h1v1h-1zM77 375h1v1h-1zM78 375h1v1h-1zM79 375h1v1h-1zM80 375h1v1h-1zM82 375h1v1h-1zM83 375h1v1h-1zM84 375h1v1h-1zM85 375h1v1h-1zM60 376h1v1h-1zM62 376h1v1h-1zM63 376h1v1h-1zM65 376h1v1h-1zM66 376h1v1h-1zM67 376h1v1h-1zM68 376h1v1h-1zM69 376h1v1h-1zM70 376h1v1h-1zM71 376h1v1h-1zM72 376h1v1h-1zM73 376h1v1h-1zM74 376h1v1h-1zM75 376h1v1h-1zM78 376h1v1h-1zM80 376h1v1h-1zM81 376h1v1h-1zM82 376h1v1h-1zM85 376h1v1h-1zM86 376h1v1h-1zM60 377h1v1h-1zM61 377h1v1h-1zM62 377h1v1h-1zM64 377h1v1h-1zM65 377h1v1h-1zM66 377h1v1h-1zM67 377h1v1h-1zM68 377h1v1h-1zM69 377h1v1h-1zM70 377h1v1h-1zM71 377h1v1h-1zM74 377h1v1h-1zM75 377h1v1h-1zM76 377h1v1h-1zM77 377h1v1h-1zM78 377h1v1h-1zM80 377h1v1h-1zM81 377h1v1h-1zM82 377h1v1h-1zM83 377h1v1h-1zM85 377h1v1h-1zM62 378h1v1h-1zM64 378h1v1h-1zM66 378h1v1h-1zM67 378h1v1h-1zM68 378h1v1h-1zM70 378h1v1h-1zM71 378h1v1h-1zM74 378h1v1h-1zM76 378h1v1h-1zM77 378h1v1h-1zM78 378h1v1h-1zM79 378h1v1h-1zM82 378h1v1h-1zM84 378h1v1h-1zM85 378h1v1h-1zM60 379h1v1h-1zM61 379h1v1h-1zM62 379h1v1h-1zM65 379h1v1h-1zM67 379h1v1h-1zM68 379h1v1h-1zM70 379h1v1h-1zM72 379h1v1h-1zM74 379h1v1h-1zM75 379h1v1h-1zM77 379h1v1h-1zM79 379h1v1h-1zM80 379h1v1h-1zM82 379h1v1h-1zM84 379h1v1h-1zM85 379h1v1h-1zM61 380h1v1h-1zM62 380h1v1h-1zM63 380h1v1h-1zM65 380h1v1h-1zM67 380h1v1h-1zM68 380h1v1h-1zM69 380h1v1h-1zM70 380h1v1h-1zM72 380h1v1h-1zM73 380h1v1h-1zM74 380h1v1h-1zM75 380h1v1h-1zM76 380h1v1h-1zM78 380h1v1h-1zM80 380h1v1h-1zM82 380h1v1h-1zM83 380h1v1h-1zM84 380h1v1h-1zM60 381h1v1h-1zM61 381h1v1h-1zM62 381h1v1h-1zM63 381h1v1h-1zM64 381h1v1h-1zM65 381h1v1h-1zM67 381h1v1h-1zM68 381h1v1h-1zM69 381h1v1h-1zM70 381h1v1h-1zM71 381h1v1h-1zM72 381h1v1h-1zM75 381h1v1h-1zM77 381h1v1h-1zM78 381h1v1h-1zM81 381h1v1h-1zM87 381h1v1h-1zM60 382h1v1h-1zM61 382h1v1h-1zM62 382h1v1h-1zM63 382h1v1h-1zM64 382h1v1h-1zM65 382h1v1h-1zM66 382h1v1h-1zM67 382h1v1h-1zM68 382h1v1h-1zM69 382h1v1h-1zM70 382h1v1h-1zM72 382h1v1h-1zM73 382h1v1h-1zM75 382h1v1h-1zM78 382h1v1h-1zM80 382h1v1h-1zM81 382h1v1h-1zM86 382h1v1h-1zM117 382h1v1h-1zM122 382h1v1h-1zM61 383h1v1h-1zM62 383h1v1h-1zM63 383h1v1h-1zM64 383h1v1h-1zM65 383h1v1h-1zM66 383h1v1h-1zM67 383h1v1h-1zM68 383h1v1h-1zM69 383h1v1h-1zM70 383h1v1h-1zM71 383h1v1h-1zM73 383h1v1h-1zM74 383h1v1h-1zM75 383h1v1h-1zM76 383h1v1h-1zM77 383h1v1h-1zM79 383h1v1h-1zM60 384h1v1h-1zM61 384h1v1h-1zM62 384h1v1h-1zM63 384h1v1h-1zM64 384h1v1h-1zM65 384h1v1h-1zM67 384h1v1h-1zM68 384h1v1h-1zM69 384h1v1h-1zM70 384h1v1h-1zM71 384h1v1h-1zM72 384h1v1h-1zM73 384h1v1h-1zM74 384h1v1h-1zM75 384h1v1h-1zM76 384h1v1h-1zM77 384h1v1h-1zM78 384h1v1h-1zM79 384h1v1h-1zM60 385h1v1h-1zM61 385h1v1h-1zM62 385h1v1h-1zM63 385h1v1h-1zM64 385h1v1h-1zM65 385h1v1h-1zM66 385h1v1h-1zM67 385h1v1h-1zM69 385h1v1h-1zM70 385h1v1h-1zM71 385h1v1h-1zM72 385h1v1h-1zM73 385h1v1h-1zM74 385h1v1h-1zM75 385h1v1h-1zM76 385h1v1h-1zM77 385h1v1h-1zM78 385h1v1h-1zM79 385h1v1h-1zM81 385h1v1h-1zM60 386h1v1h-1zM61 386h1v1h-1zM62 386h1v1h-1zM63 386h1v1h-1zM64 386h1v1h-1zM65 386h1v1h-1zM66 386h1v1h-1zM67 386h1v1h-1zM68 386h1v1h-1zM69 386h1v1h-1zM70 386h1v1h-1zM71 386h1v1h-1zM72 386h1v1h-1zM73 386h1v1h-1zM74 386h1v1h-1zM75 386h1v1h-1zM76 386h1v1h-1zM77 386h1v1h-1zM80 386h1v1h-1zM82 386h1v1h-1zM60 387h1v1h-1zM61 387h1v1h-1zM62 387h1v1h-1zM63 387h1v1h-1zM64 387h1v1h-1zM65 387h1v1h-1zM66 387h1v1h-1zM67 387h1v1h-1zM68 387h1v1h-1zM69 387h1v1h-1zM70 387h1v1h-1zM71 387h1v1h-1zM72 387h1v1h-1zM73 387h1v1h-1zM74 387h1v1h-1zM75 387h1v1h-1zM76 387h1v1h-1zM77 387h1v1h-1zM78 387h1v1h-1zM79 387h1v1h-1zM80 387h1v1h-1zM82 387h1v1h-1zM83 387h1v1h-1zM60 388h1v1h-1zM61 388h1v1h-1zM62 388h1v1h-1zM63 388h1v1h-1zM64 388h1v1h-1zM65 388h1v1h-1zM66 388h1v1h-1zM67 388h1v1h-1zM68 388h1v1h-1zM69 388h1v1h-1zM70 388h1v1h-1zM71 388h1v1h-1zM72 388h1v1h-1zM73 388h1v1h-1zM74 388h1v1h-1zM75 388h1v1h-1zM76 388h1v1h-1zM77 388h1v1h-1zM78 388h1v1h-1zM79 388h1v1h-1zM80 388h1v1h-1zM81 388h1v1h-1zM82 388h1v1h-1zM84 388h1v1h-1zM61 389h1v1h-1zM62 389h1v1h-1zM63 389h1v1h-1zM64 389h1v1h-1zM65 389h1v1h-1zM66 389h1v1h-1zM67 389h1v1h-1zM68 389h1v1h-1zM69 389h1v1h-1zM71 389h1v1h-1zM72 389h1v1h-1zM73 389h1v1h-1zM74 389h1v1h-1zM75 389h1v1h-1zM76 389h1v1h-1zM77 389h1v1h-1zM78 389h1v1h-1zM79 389h1v1h-1zM80 389h1v1h-1zM81 389h1v1h-1zM82 389h1v1h-1zM83 389h1v1h-1zM60 390h1v1h-1zM62 390h1v1h-1zM63 390h1v1h-1zM64 390h1v1h-1zM65 390h1v1h-1zM66 390h1v1h-1zM67 390h1v1h-1zM68 390h1v1h-1zM69 390h1v1h-1zM70 390h1v1h-1zM71 390h1v1h-1zM72 390h1v1h-1zM73 390h1v1h-1zM74 390h1v1h-1zM75 390h1v1h-1zM76 390h1v1h-1zM77 390h1v1h-1zM78 390h1v1h-1zM79 390h1v1h-1zM80 390h1v1h-1zM81 390h1v1h-1zM82 390h1v1h-1zM83 390h1v1h-1zM61 391h1v1h-1zM62 391h1v1h-1zM63 391h1v1h-1zM64 391h1v1h-1zM65 391h1v1h-1zM66 391h1v1h-1zM67 391h1v1h-1zM68 391h1v1h-1zM69 391h1v1h-1zM70 391h1v1h-1zM71 391h1v1h-1zM72 391h1v1h-1zM73 391h1v1h-1zM74 391h1v1h-1zM75 391h1v1h-1zM76 391h1v1h-1zM77 391h1v1h-1zM78 391h1v1h-1zM79 391h1v1h-1zM80 391h1v1h-1zM81 391h1v1h-1zM82 391h1v1h-1zM83 391h1v1h-1zM60 392h1v1h-1zM61 392h1v1h-1zM62 392h1v1h-1zM63 392h1v1h-1zM64 392h1v1h-1zM65 392h1v1h-1zM66 392h1v1h-1zM67 392h1v1h-1zM68 392h1v1h-1zM70 392h1v1h-1zM71 392h1v1h-1zM72 392h1v1h-1zM73 392h1v1h-1zM74 392h1v1h-1zM75 392h1v1h-1zM76 392h1v1h-1zM77 392h1v1h-1zM78 392h1v1h-1zM79 392h1v1h-1zM80 392h1v1h-1zM81 392h1v1h-1zM82 392h1v1h-1zM83 392h1v1h-1zM60 393h1v1h-1zM61 393h1v1h-1zM62 393h1v1h-1zM63 393h1v1h-1zM64 393h1v1h-1zM66 393h1v1h-1zM67 393h1v1h-1zM68 393h1v1h-1zM69 393h1v1h-1zM70 393h1v1h-1zM71 393h1v1h-1zM72 393h1v1h-1zM73 393h1v1h-1zM74 393h1v1h-1zM75 393h1v1h-1zM76 393h1v1h-1zM77 393h1v1h-1zM78 393h1v1h-1zM79 393h1v1h-1zM80 393h1v1h-1zM81 393h1v1h-1zM82 393h1v1h-1zM60 394h1v1h-1zM61 394h1v1h-1zM62 394h1v1h-1zM63 394h1v1h-1zM64 394h1v1h-1zM65 394h1v1h-1zM66 394h1v1h-1zM67 394h1v1h-1zM68 394h1v1h-1zM69 394h1v1h-1zM70 394h1v1h-1zM71 394h1v1h-1zM72 394h1v1h-1zM73 394h1v1h-1zM74 394h1v1h-1zM75 394h1v1h-1zM76 394h1v1h-1zM77 394h1v1h-1zM78 394h1v1h-1zM79 394h1v1h-1zM80 394h1v1h-1zM81 394h1v1h-1zM60 395h1v1h-1zM61 395h1v1h-1zM62 395h1v1h-1zM63 395h1v1h-1zM64 395h1v1h-1zM65 395h1v1h-1zM66 395h1v1h-1zM67 395h1v1h-1zM68 395h1v1h-1zM69 395h1v1h-1zM71 395h1v1h-1zM72 395h1v1h-1zM73 395h1v1h-1zM74 395h1v1h-1zM75 395h1v1h-1zM76 395h1v1h-1zM77 395h1v1h-1zM78 395h1v1h-1zM79 395h1v1h-1zM80 395h1v1h-1zM81 395h1v1h-1zM60 396h1v1h-1zM61 396h1v1h-1zM62 396h1v1h-1zM63 396h1v1h-1zM64 396h1v1h-1zM65 396h1v1h-1zM66 396h1v1h-1zM67 396h1v1h-1zM68 396h1v1h-1zM69 396h1v1h-1zM70 396h1v1h-1zM71 396h1v1h-1zM72 396h1v1h-1zM73 396h1v1h-1zM74 396h1v1h-1zM75 396h1v1h-1zM76 396h1v1h-1zM77 396h1v1h-1zM78 396h1v1h-1zM79 396h1v1h-1zM80 396h1v1h-1zM60 397h1v1h-1zM62 397h1v1h-1zM63 397h1v1h-1zM64 397h1v1h-1zM65 397h1v1h-1zM66 397h1v1h-1zM68 397h1v1h-1zM69 397h1v1h-1zM70 397h1v1h-1zM71 397h1v1h-1zM72 397h1v1h-1zM73 397h1v1h-1zM74 397h1v1h-1zM76 397h1v1h-1zM77 397h1v1h-1zM78 397h1v1h-1zM79 397h1v1h-1zM60 398h1v1h-1zM61 398h1v1h-1zM62 398h1v1h-1zM63 398h1v1h-1zM64 398h1v1h-1zM65 398h1v1h-1zM66 398h1v1h-1zM67 398h1v1h-1zM68 398h1v1h-1zM69 398h1v1h-1zM70 398h1v1h-1zM71 398h1v1h-1zM72 398h1v1h-1zM73 398h1v1h-1zM74 398h1v1h-1zM75 398h1v1h-1zM76 398h1v1h-1zM77 398h1v1h-1zM78 398h1v1h-1zM79 398h1v1h-1zM60 399h1v1h-1zM61 399h1v1h-1zM62 399h1v1h-1zM64 399h1v1h-1zM66 399h1v1h-1zM67 399h1v1h-1zM68 399h1v1h-1zM69 399h1v1h-1zM70 399h1v1h-1zM71 399h1v1h-1zM72 399h1v1h-1zM73 399h1v1h-1zM74 399h1v1h-1zM75 399h1v1h-1zM76 399h1v1h-1zM77 399h1v1h-1zM78 399h1v1h-1zM124 399h1v1h-1zM132 399h1v1h-1zM60 400h1v1h-1zM61 400h1v1h-1zM62 400h1v1h-1zM63 400h1v1h-1zM64 400h1v1h-1zM65 400h1v1h-1zM66 400h1v1h-1zM67 400h1v1h-1zM68 400h1v1h-1zM69 400h1v1h-1zM70 400h1v1h-1zM71 400h1v1h-1zM72 400h1v1h-1zM73 400h1v1h-1zM74 400h1v1h-1zM75 400h1v1h-1zM76 400h1v1h-1zM77 400h1v1h-1zM78 400h1v1h-1zM60 401h1v1h-1zM61 401h1v1h-1zM62 401h1v1h-1zM63 401h1v1h-1zM64 401h1v1h-1zM65 401h1v1h-1zM66 401h1v1h-1zM67 401h1v1h-1zM68 401h1v1h-1zM70 401h1v1h-1zM71 401h1v1h-1zM72 401h1v1h-1zM73 401h1v1h-1zM74 401h1v1h-1zM75 401h1v1h-1zM76 401h1v1h-1zM77 401h1v1h-1zM61 402h1v1h-1zM62 402h1v1h-1zM63 402h1v1h-1zM64 402h1v1h-1zM65 402h1v1h-1zM66 402h1v1h-1zM67 402h1v1h-1zM68 402h1v1h-1zM69 402h1v1h-1zM70 402h1v1h-1zM71 402h1v1h-1zM72 402h1v1h-1zM73 402h1v1h-1zM74 402h1v1h-1zM75 402h1v1h-1zM76 402h1v1h-1zM93 402h1v1h-1zM94 402h1v1h-1zM98 402h1v1h-1zM101 402h1v1h-1zM106 402h1v1h-1zM112 402h1v1h-1zM113 402h1v1h-1zM60 403h1v1h-1zM61 403h1v1h-1zM62 403h1v1h-1zM63 403h1v1h-1zM64 403h1v1h-1zM65 403h1v1h-1zM67 403h1v1h-1zM68 403h1v1h-1zM69 403h1v1h-1zM70 403h1v1h-1zM71 403h1v1h-1zM72 403h1v1h-1zM73 403h1v1h-1zM75 403h1v1h-1zM90 403h1v1h-1zM119 403h1v1h-1zM60 404h1v1h-1zM61 404h1v1h-1zM62 404h1v1h-1zM63 404h1v1h-1zM64 404h1v1h-1zM66 404h1v1h-1zM67 404h1v1h-1zM68 404h1v1h-1zM69 404h1v1h-1zM70 404h1v1h-1zM71 404h1v1h-1zM73 404h1v1h-1zM74 404h1v1h-1zM76 404h1v1h-1zM60 405h1v1h-1zM62 405h1v1h-1zM63 405h1v1h-1zM65 405h1v1h-1zM66 405h1v1h-1zM67 405h1v1h-1zM68 405h1v1h-1zM69 405h1v1h-1zM70 405h1v1h-1zM72 405h1v1h-1zM73 405h1v1h-1zM60 406h1v1h-1zM61 406h1v1h-1zM62 406h1v1h-1zM63 406h1v1h-1zM64 406h1v1h-1zM65 406h1v1h-1zM66 406h1v1h-1zM67 406h1v1h-1zM68 406h1v1h-1zM69 406h1v1h-1zM70 406h1v1h-1zM71 406h1v1h-1zM72 406h1v1h-1zM73 406h1v1h-1zM75 406h1v1h-1zM76 406h1v1h-1zM60 407h1v1h-1zM61 407h1v1h-1zM63 407h1v1h-1zM65 407h1v1h-1zM66 407h1v1h-1zM67 407h1v1h-1zM68 407h1v1h-1zM69 407h1v1h-1zM70 407h1v1h-1zM71 407h1v1h-1zM72 407h1v1h-1zM73 407h1v1h-1zM74 407h1v1h-1zM75 407h1v1h-1z" fill="#000" fill-opacity="1.0" shape-rendering="crispEdges" filter="url(#soft)"/>
<rect x="58.6" y="325.3" width="85.0" height="83.5" fill="none" stroke="#111" stroke-width="1.1"/>
<polyline points="87.7,325.3 87.7,379.3 72,408.8" fill="none" stroke="#333" stroke-width="0.9"/>
<line x1="87.7" y1="381.3" x2="143.6" y2="381.3" stroke="#333" stroke-width="0.9"/>
<text x="59.800000000000004" y="333.2" font-size="7.5" font-weight="bold" text-anchor="start" stroke="#000" stroke-width="0.3" >15.7</text>
<text x="141.79999999999998" y="333.2" font-size="7.5" font-weight="bold" text-anchor="end" stroke="#000" stroke-width="0.3" >0.6</text>
<text x="141.79999999999998" y="404.5" font-size="7.5" font-weight="bold" text-anchor="end" stroke="#000" stroke-width="0.3" >3.9</text>
<text x="55.6" y="409.20000000000005" font-size="5.2" font-weight="bold" font-style="italic" stroke="#000" stroke-width="0.3" text-anchor="end">10<tspan font-size="3.8" dy="-2">0</tspan></text>
<text x="58.6" y="415.8" font-size="5.2" font-weight="bold" font-style="italic" stroke="#000" stroke-width="0.3" text-anchor="middle">10<tspan font-size="3.8" dy="-2">0</tspan></text>
<text x="55.6" y="389.02500000000003" font-size="5.2" font-weight="bold" font-style="italic" stroke="#000" stroke-width="0.3" text-anchor="end">10<tspan font-size="3.8" dy="-2">1</tspan></text>
<text x="79.85" y="415.8" font-size="5.2" font-weight="bold" font-style="italic" stroke="#000" stroke-width="0.3" text-anchor="middle">10<tspan font-size="3.8" dy="-2">1</tspan></text>
<text x="55.6" y="368.85" font-size="5.2" font-weight="bold" font-style="italic" stroke="#000" stroke-width="0.3" text-anchor="end">10<tspan font-size="3.8" dy="-2">2</tspan></text>
<text x="101.1" y="415.8" font-size="5.2" font-weight="bold" font-style="italic" stroke="#000" stroke-width="0.3" text-anchor="middle">10<tspan font-size="3.8" dy="-2">2</tspan></text>
<text x="55.6" y="348.675" font-size="5.2" font-weight="bold" font-style="italic" stroke="#000" stroke-width="0.3" text-anchor="end">10<tspan font-size="3.8" dy="-2">3</tspan></text>
<text x="122.35" y="415.8" font-size="5.2" font-weight="bold" font-style="italic" stroke="#000" stroke-width="0.3" text-anchor="middle">10<tspan font-size="3.8" dy="-2">3</tspan></text>
<text x="55.6" y="328.50000000000006" font-size="5.2" font-weight="bold" font-style="italic" stroke="#000" stroke-width="0.3" text-anchor="end">10<tspan font-size="3.8" dy="-2">4</tspan></text>
<text x="143.6" y="415.8" font-size="5.2" font-weight="bold" font-style="italic" stroke="#000" stroke-width="0.3" text-anchor="middle">10<tspan font-size="3.8" dy="-2">4</tspan></text>
<text transform="translate(49.2,359.535) rotate(-90)" font-size="5" font-weight="bold" stroke="#000" stroke-width="0.25" text-anchor="middle">FL4-H</text>
<text x="101.1" y="421.1" font-size="5" font-weight="bold" stroke="#000" stroke-width="0.25" text-anchor="middle">FL2-H</text>
<path d="M206 343h1v1h-1zM207 353h1v1h-1zM200 355h1v1h-1zM201 356h1v1h-1zM245 357h1v1h-1zM199 361h1v1h-1zM225 365h1v1h-1zM220 370h1v1h-1zM194 372h1v1h-1zM230 373h1v1h-1zM244 376h1v1h-1zM197 378h1v1h-1zM208 383h1v1h-1zM212 384h1v1h-1zM206 385h1v1h-1zM199 387h1v1h-1zM197 388h1v1h-1zM238 388h1v1h-1zM218 389h1v1h-1zM224 390h1v1h-1zM213 395h1v1h-1zM238 395h1v1h-1zM201 397h1v1h-1zM198 399h1v1h-1zM201 399h1v1h-1zM211 400h1v1h-1zM228 401h1v1h-1zM200 402h1v1h-1zM219 403h1v1h-1zM222 406h1v1h-1z" fill="#000" fill-opacity="0.4" shape-rendering="crispEdges" filter="url(#soft)"/>
<path d="M176 351h1v1h-1zM179 352h1v1h-1zM171 353h1v1h-1zM178 353h1v1h-1zM180 353h1v1h-1zM171 354h1v1h-1zM172 354h1v1h-1zM183 354h1v1h-1zM168 355h1v1h-1zM173 355h1v1h-1zM174 355h1v1h-1zM176 355h1v1h-1zM181 355h1v1h-1zM182 355h1v1h-1zM172 356h1v1h-1zM173 356h1v1h-1zM174 356h1v1h-1zM178 356h1v1h-1zM180 356h1v1h-1zM174 357h1v1h-1zM178 357h1v1h-1zM181 357h1v1h-1zM186 357h1v1h-1zM169 358h1v1h-1zM171 358h1v1h-1zM175 358h1v1h-1zM176 358h1v1h-1zM178 358h1v1h-1zM179 358h1v1h-1zM180 358h1v1h-1zM181 358h1v1h-1zM183 359h1v1h-1zM167 360h1v1h-1zM168 360h1v1h-1zM169 360h1v1h-1zM172 360h1v1h-1zM179 360h1v1h-1zM182 360h1v1h-1zM184 360h1v1h-1zM166 361h1v1h-1zM168 361h1v1h-1zM170 361h1v1h-1zM172 361h1v1h-1zM173 361h1v1h-1zM174 361h1v1h-1zM184 361h1v1h-1zM173 362h1v1h-1zM174 362h1v1h-1zM176 362h1v1h-1zM177 362h1v1h-1zM180 362h1v1h-1zM181 362h1v1h-1zM182 362h1v1h-1zM184 362h1v1h-1zM168 363h1v1h-1zM169 363h1v1h-1zM170 363h1v1h-1zM174 363h1v1h-1zM185 363h1v1h-1zM167 364h1v1h-1zM170 364h1v1h-1zM171 364h1v1h-1zM173 364h1v1h-1zM174 364h1v1h-1zM178 364h1v1h-1zM186 364h1v1h-1zM165 365h1v1h-1zM168 365h1v1h-1zM170 365h1v1h-1zM174 365h1v1h-1zM176 365h1v1h-1zM181 365h1v1h-1zM184 365h1v1h-1zM169 366h1v1h-1zM171 366h1v1h-1zM172 366h1v1h-1zM175 366h1v1h-1zM181 366h1v1h-1zM182 366h1v1h-1zM184 366h1v1h-1zM187 366h1v1h-1zM165 367h1v1h-1zM167 367h1v1h-1zM168 367h1v1h-1zM170 367h1v1h-1zM175 367h1v1h-1zM176 367h1v1h-1zM180 367h1v1h-1zM166 368h1v1h-1zM172 368h1v1h-1zM173 368h1v1h-1zM175 368h1v1h-1zM180 368h1v1h-1zM183 368h1v1h-1zM184 368h1v1h-1zM185 368h1v1h-1zM186 368h1v1h-1zM187 368h1v1h-1zM165 369h1v1h-1zM169 369h1v1h-1zM170 369h1v1h-1zM171 369h1v1h-1zM173 369h1v1h-1zM174 369h1v1h-1zM175 369h1v1h-1zM176 369h1v1h-1zM177 369h1v1h-1zM178 369h1v1h-1zM180 369h1v1h-1zM181 369h1v1h-1zM184 369h1v1h-1zM164 370h1v1h-1zM166 370h1v1h-1zM169 370h1v1h-1zM170 370h1v1h-1zM171 370h1v1h-1zM181 370h1v1h-1zM183 370h1v1h-1zM164 371h1v1h-1zM166 371h1v1h-1zM171 371h1v1h-1zM175 371h1v1h-1zM176 371h1v1h-1zM177 371h1v1h-1zM179 371h1v1h-1zM180 371h1v1h-1zM164 372h1v1h-1zM170 372h1v1h-1zM175 372h1v1h-1zM177 372h1v1h-1zM178 372h1v1h-1zM179 372h1v1h-1zM180 372h1v1h-1zM182 372h1v1h-1zM184 372h1v1h-1zM165 373h1v1h-1zM167 373h1v1h-1zM169 373h1v1h-1zM170 373h1v1h-1zM172 373h1v1h-1zM175 373h1v1h-1zM180 373h1v1h-1zM186 373h1v1h-1zM187 373h1v1h-1zM164 374h1v1h-1zM165 374h1v1h-1zM173 374h1v1h-1zM174 374h1v1h-1zM177 374h1v1h-1zM178 374h1v1h-1zM179 374h1v1h-1zM180 374h1v1h-1zM181 374h1v1h-1zM182 374h1v1h-1zM183 374h1v1h-1zM185 374h1v1h-1zM164 375h1v1h-1zM166 375h1v1h-1zM170 375h1v1h-1zM171 375h1v1h-1zM173 375h1v1h-1zM176 375h1v1h-1zM179 375h1v1h-1zM181 375h1v1h-1zM185 375h1v1h-1zM186 375h1v1h-1zM164 376h1v1h-1zM168 376h1v1h-1zM169 376h1v1h-1zM174 376h1v1h-1zM176 376h1v1h-1zM180 376h1v1h-1zM182 376h1v1h-1zM185 376h1v1h-1zM186 376h1v1h-1zM164 377h1v1h-1zM167 377h1v1h-1zM168 377h1v1h-1zM170 377h1v1h-1zM175 377h1v1h-1zM176 377h1v1h-1zM177 377h1v1h-1zM179 377h1v1h-1zM180 377h1v1h-1zM181 377h1v1h-1zM182 377h1v1h-1zM183 377h1v1h-1zM184 377h1v1h-1zM185 377h1v1h-1zM168 378h1v1h-1zM176 378h1v1h-1zM178 378h1v1h-1zM181 378h1v1h-1zM182 378h1v1h-1zM183 378h1v1h-1zM164 379h1v1h-1zM166 379h1v1h-1zM168 379h1v1h-1zM169 379h1v1h-1zM170 379h1v1h-1zM171 379h1v1h-1zM173 379h1v1h-1zM174 379h1v1h-1zM181 379h1v1h-1zM182 379h1v1h-1zM183 379h1v1h-1zM184 379h1v1h-1zM164 380h1v1h-1zM165 380h1v1h-1zM167 380h1v1h-1zM169 380h1v1h-1zM172 380h1v1h-1zM173 380h1v1h-1zM176 380h1v1h-1zM177 380h1v1h-1zM181 380h1v1h-1zM183 380h1v1h-1zM184 380h1v1h-1zM186 380h1v1h-1zM167 381h1v1h-1zM171 381h1v1h-1zM172 381h1v1h-1zM177 381h1v1h-1zM178 381h1v1h-1zM180 381h1v1h-1zM181 381h1v1h-1zM182 381h1v1h-1zM184 381h1v1h-1zM164 382h1v1h-1zM167 382h1v1h-1zM170 382h1v1h-1zM171 382h1v1h-1zM174 382h1v1h-1zM176 382h1v1h-1zM177 382h1v1h-1zM178 382h1v1h-1zM179 382h1v1h-1zM183 382h1v1h-1zM184 382h1v1h-1zM185 382h1v1h-1zM186 382h1v1h-1zM165 383h1v1h-1zM167 383h1v1h-1zM168 383h1v1h-1zM169 383h1v1h-1zM171 383h1v1h-1zM172 383h1v1h-1zM174 383h1v1h-1zM175 383h1v1h-1zM177 383h1v1h-1zM178 383h1v1h-1zM180 383h1v1h-1zM182 383h1v1h-1zM185 383h1v1h-1zM186 383h1v1h-1zM164 384h1v1h-1zM165 384h1v1h-1zM166 384h1v1h-1zM167 384h1v1h-1zM169 384h1v1h-1zM170 384h1v1h-1zM173 384h1v1h-1zM174 384h1v1h-1zM176 384h1v1h-1zM178 384h1v1h-1zM179 384h1v1h-1zM180 384h1v1h-1zM182 384h1v1h-1zM183 384h1v1h-1zM184 384h1v1h-1zM185 384h1v1h-1zM165 385h1v1h-1zM166 385h1v1h-1zM167 385h1v1h-1zM168 385h1v1h-1zM169 385h1v1h-1zM170 385h1v1h-1zM171 385h1v1h-1zM173 385h1v1h-1zM175 385h1v1h-1zM176 385h1v1h-1zM177 385h1v1h-1zM178 385h1v1h-1zM180 385h1v1h-1zM181 385h1v1h-1zM182 385h1v1h-1zM183 385h1v1h-1zM184 385h1v1h-1zM185 385h1v1h-1zM186 385h1v1h-1zM166 386h1v1h-1zM169 386h1v1h-1zM173 386h1v1h-1zM174 386h1v1h-1zM175 386h1v1h-1zM176 386h1v1h-1zM177 386h1v1h-1zM178 386h1v1h-1zM179 386h1v1h-1zM180 386h1v1h-1zM181 386h1v1h-1zM182 386h1v1h-1zM183 386h1v1h-1zM184 386h1v1h-1zM185 386h1v1h-1zM187 386h1v1h-1zM164 387h1v1h-1zM167 387h1v1h-1zM170 387h1v1h-1zM172 387h1v1h-1zM173 387h1v1h-1zM174 387h1v1h-1zM178 387h1v1h-1zM179 387h1v1h-1zM180 387h1v1h-1zM181 387h1v1h-1zM182 387h1v1h-1zM183 387h1v1h-1zM184 387h1v1h-1zM185 387h1v1h-1zM186 387h1v1h-1zM187 387h1v1h-1zM165 388h1v1h-1zM166 388h1v1h-1zM167 388h1v1h-1zM170 388h1v1h-1zM171 388h1v1h-1zM172 388h1v1h-1zM174 388h1v1h-1zM175 388h1v1h-1zM176 388h1v1h-1zM177 388h1v1h-1zM178 388h1v1h-1zM179 388h1v1h-1zM180 388h1v1h-1zM182 388h1v1h-1zM183 388h1v1h-1zM184 388h1v1h-1zM185 388h1v1h-1zM186 388h1v1h-1zM187 388h1v1h-1zM165 389h1v1h-1zM166 389h1v1h-1zM167 389h1v1h-1zM169 389h1v1h-1zM170 389h1v1h-1zM171 389h1v1h-1zM172 389h1v1h-1zM173 389h1v1h-1zM175 389h1v1h-1zM176 389h1v1h-1zM177 389h1v1h-1zM178 389h1v1h-1zM179 389h1v1h-1zM180 389h1v1h-1zM181 389h1v1h-1zM182 389h1v1h-1zM183 389h1v1h-1zM184 389h1v1h-1zM185 389h1v1h-1zM187 389h1v1h-1zM188 389h1v1h-1zM191 389h1v1h-1zM166 390h1v1h-1zM167 390h1v1h-1zM168 390h1v1h-1zM171 390h1v1h-1zM172 390h1v1h-1zM173 390h1v1h-1zM174 390h1v1h-1zM175 390h1v1h-1zM176 390h1v1h-1zM177 390h1v1h-1zM178 390h1v1h-1zM179 390h1v1h-1zM180 390h1v1h-1zM181 390h1v1h-1zM182 390h1v1h-1zM183 390h1v1h-1zM184 390h1v1h-1zM185 390h1v1h-1zM186 390h1v1h-1zM188 390h1v1h-1zM164 391h1v1h-1zM165 391h1v1h-1zM166 391h1v1h-1zM167 391h1v1h-1zM170 391h1v1h-1zM171 391h1v1h-1zM172 391h1v1h-1zM173 391h1v1h-1zM174 391h1v1h-1zM176 391h1v1h-1zM177 391h1v1h-1zM178 391h1v1h-1zM179 391h1v1h-1zM180 391h1v1h-1zM181 391h1v1h-1zM182 391h1v1h-1zM183 391h1v1h-1zM184 391h1v1h-1zM185 391h1v1h-1zM187 391h1v1h-1zM164 392h1v1h-1zM167 392h1v1h-1zM168 392h1v1h-1zM169 392h1v1h-1zM170 392h1v1h-1zM171 392h1v1h-1zM172 392h1v1h-1zM174 392h1v1h-1zM175 392h1v1h-1zM176 392h1v1h-1zM177 392h1v1h-1zM178 392h1v1h-1zM179 392h1v1h-1zM180 392h1v1h-1zM181 392h1v1h-1zM182 392h1v1h-1zM183 392h1v1h-1zM186 392h1v1h-1zM165 393h1v1h-1zM166 393h1v1h-1zM167 393h1v1h-1zM168 393h1v1h-1zM169 393h1v1h-1zM170 393h1v1h-1zM171 393h1v1h-1zM172 393h1v1h-1zM173 393h1v1h-1zM174 393h1v1h-1zM175 393h1v1h-1zM176 393h1v1h-1zM177 393h1v1h-1zM178 393h1v1h-1zM179 393h1v1h-1zM180 393h1v1h-1zM181 393h1v1h-1zM182 393h1v1h-1zM183 393h1v1h-1zM184 393h1v1h-1zM185 393h1v1h-1zM186 393h1v1h-1zM164 394h1v1h-1zM165 394h1v1h-1zM166 394h1v1h-1zM167 394h1v1h-1zM169 394h1v1h-1zM170 394h1v1h-1zM171 394h1v1h-1zM172 394h1v1h-1zM173 394h1v1h-1zM174 394h1v1h-1zM175 394h1v1h-1zM176 394h1v1h-1zM177 394h1v1h-1zM178 394h1v1h-1zM180 394h1v1h-1zM182 394h1v1h-1zM183 394h1v1h-1zM165 395h1v1h-1zM166 395h1v1h-1zM167 395h1v1h-1zM170 395h1v1h-1zM171 395h1v1h-1zM173 395h1v1h-1zM174 395h1v1h-1zM175 395h1v1h-1zM176 395h1v1h-1zM177 395h1v1h-1zM178 395h1v1h-1zM179 395h1v1h-1zM182 395h1v1h-1zM183 395h1v1h-1zM184 395h1v1h-1zM164 396h1v1h-1zM165 396h1v1h-1zM166 396h1v1h-1zM167 396h1v1h-1zM168 396h1v1h-1zM169 396h1v1h-1zM170 396h1v1h-1zM171 396h1v1h-1zM172 396h1v1h-1zM173 396h1v1h-1zM175 396h1v1h-1zM176 396h1v1h-1zM177 396h1v1h-1zM178 396h1v1h-1zM179 396h1v1h-1zM180 396h1v1h-1zM181 396h1v1h-1zM182 396h1v1h-1zM165 397h1v1h-1zM166 397h1v1h-1zM167 397h1v1h-1zM168 397h1v1h-1zM169 397h1v1h-1zM172 397h1v1h-1zM173 397h1v1h-1zM175 397h1v1h-1zM176 397h1v1h-1zM178 397h1v1h-1zM179 397h1v1h-1zM182 397h1v1h-1zM166 398h1v1h-1zM167 398h1v1h-1zM168 398h1v1h-1zM170 398h1v1h-1zM171 398h1v1h-1zM172 398h1v1h-1zM173 398h1v1h-1zM174 398h1v1h-1zM175 398h1v1h-1zM176 398h1v1h-1zM177 398h1v1h-1zM178 398h1v1h-1zM179 398h1v1h-1zM180 398h1v1h-1zM181 398h1v1h-1zM182 398h1v1h-1zM183 398h1v1h-1zM164 399h1v1h-1zM165 399h1v1h-1zM166 399h1v1h-1zM167 399h1v1h-1zM169 399h1v1h-1zM170 399h1v1h-1zM171 399h1v1h-1zM173 399h1v1h-1zM174 399h1v1h-1zM175 399h1v1h-1zM176 399h1v1h-1zM178 399h1v1h-1zM179 399h1v1h-1zM180 399h1v1h-1zM164 400h1v1h-1zM165 400h1v1h-1zM166 400h1v1h-1zM168 400h1v1h-1zM169 400h1v1h-1zM170 400h1v1h-1zM171 400h1v1h-1zM172 400h1v1h-1zM173 400h1v1h-1zM174 400h1v1h-1zM175 400h1v1h-1zM176 400h1v1h-1zM177 400h1v1h-1zM178 400h1v1h-1zM179 400h1v1h-1zM180 400h1v1h-1zM166 401h1v1h-1zM167 401h1v1h-1zM168 401h1v1h-1zM169 401h1v1h-1zM171 401h1v1h-1zM172 401h1v1h-1zM173 401h1v1h-1zM174 401h1v1h-1zM175 401h1v1h-1zM176 401h1v1h-1zM177 401h1v1h-1zM181 401h1v1h-1zM165 402h1v1h-1zM166 402h1v1h-1zM167 402h1v1h-1zM168 402h1v1h-1zM169 402h1v1h-1zM170 402h1v1h-1zM171 402h1v1h-1zM172 402h1v1h-1zM173 402h1v1h-1zM174 402h1v1h-1zM175 402h1v1h-1zM176 402h1v1h-1zM177 402h1v1h-1zM178 402h1v1h-1zM164 403h1v1h-1zM165 403h1v1h-1zM166 403h1v1h-1zM167 403h1v1h-1zM169 403h1v1h-1zM170 403h1v1h-1zM172 403h1v1h-1zM173 403h1v1h-1zM174 403h1v1h-1zM175 403h1v1h-1zM176 403h1v1h-1zM177 403h1v1h-1zM178 403h1v1h-1zM179 403h1v1h-1zM164 404h1v1h-1zM166 404h1v1h-1zM167 404h1v1h-1zM168 404h1v1h-1zM169 404h1v1h-1zM170 404h1v1h-1zM171 404h1v1h-1zM172 404h1v1h-1zM174 404h1v1h-1zM175 404h1v1h-1zM176 404h1v1h-1zM177 404h1v1h-1zM178 404h1v1h-1zM166 405h1v1h-1zM169 405h1v1h-1zM170 405h1v1h-1zM171 405h1v1h-1zM174 405h1v1h-1zM175 405h1v1h-1zM176 405h1v1h-1zM177 405h1v1h-1zM178 405h1v1h-1zM165 406h1v1h-1zM166 406h1v1h-1zM167 406h1v1h-1zM168 406h1v1h-1zM169 406h1v1h-1zM170 406h1v1h-1zM171 406h1v1h-1zM172 406h1v1h-1zM173 406h1v1h-1zM174 406h1v1h-1zM175 406h1v1h-1zM179 406h1v1h-1z" fill="#000" fill-opacity="1.0" shape-rendering="crispEdges" filter="url(#soft)"/>
<rect x="162.9" y="324.3" width="84.19999999999999" height="84.0" fill="none" stroke="#111" stroke-width="1.1"/>
<line x1="162.9" y1="324.3" x2="162.9" y2="408.3" stroke="#000" stroke-width="2"/>
<line x1="191.3" y1="378.5" x2="162.9" y2="388" stroke="#444" stroke-width="0.8"/>
<polyline points="191.3,324.3 191.3,378.5 172.4,408.3" fill="none" stroke="#333" stroke-width="0.9"/>
<line x1="191.3" y1="380.5" x2="247.1" y2="380.5" stroke="#333" stroke-width="0.9"/>
<text x="164.1" y="332.2" font-size="7.5" font-weight="bold" text-anchor="start" stroke="#000" stroke-width="0.3" >39.1</text>
<text x="245.29999999999998" y="332.2" font-size="7.5" font-weight="bold" text-anchor="end" stroke="#000" stroke-width="0.3" >&lt;0.1</text>
<text x="245.29999999999998" y="404.0" font-size="7.5" font-weight="bold" text-anchor="end" stroke="#000" stroke-width="0.3" >0.7</text>
<text x="159.9" y="408.70000000000005" font-size="5.2" font-weight="bold" font-style="italic" stroke="#000" stroke-width="0.3" text-anchor="end">10<tspan font-size="3.8" dy="-2">0</tspan></text>
<text x="162.9" y="415.3" font-size="5.2" font-weight="bold" font-style="italic" stroke="#000" stroke-width="0.3" text-anchor="middle">10<tspan font-size="3.8" dy="-2">0</tspan></text>
<text x="159.9" y="388.40000000000003" font-size="5.2" font-weight="bold" font-style="italic" stroke="#000" stroke-width="0.3" text-anchor="end">10<tspan font-size="3.8" dy="-2">1</tspan></text>
<text x="183.95" y="415.3" font-size="5.2" font-weight="bold" font-style="italic" stroke="#000" stroke-width="0.3" text-anchor="middle">10<tspan font-size="3.8" dy="-2">1</tspan></text>
<text x="159.9" y="368.1" font-size="5.2" font-weight="bold" font-style="italic" stroke="#000" stroke-width="0.3" text-anchor="end">10<tspan font-size="3.8" dy="-2">2</tspan></text>
<text x="205.0" y="415.3" font-size="5.2" font-weight="bold" font-style="italic" stroke="#000" stroke-width="0.3" text-anchor="middle">10<tspan font-size="3.8" dy="-2">2</tspan></text>
<text x="159.9" y="347.8" font-size="5.2" font-weight="bold" font-style="italic" stroke="#000" stroke-width="0.3" text-anchor="end">10<tspan font-size="3.8" dy="-2">3</tspan></text>
<text x="226.05" y="415.3" font-size="5.2" font-weight="bold" font-style="italic" stroke="#000" stroke-width="0.3" text-anchor="middle">10<tspan font-size="3.8" dy="-2">3</tspan></text>
<text x="159.9" y="327.50000000000006" font-size="5.2" font-weight="bold" font-style="italic" stroke="#000" stroke-width="0.3" text-anchor="end">10<tspan font-size="3.8" dy="-2">4</tspan></text>
<text x="247.1" y="415.3" font-size="5.2" font-weight="bold" font-style="italic" stroke="#000" stroke-width="0.3" text-anchor="middle">10<tspan font-size="3.8" dy="-2">4</tspan></text>
<text transform="translate(153.5,358.74) rotate(-90)" font-size="5" font-weight="bold" stroke="#000" stroke-width="0.25" text-anchor="middle">FL4-H</text>
<text x="205.0" y="420.6" font-size="5" font-weight="bold" stroke="#000" stroke-width="0.25" text-anchor="middle">FL2-H</text>
<line x1="30" y1="326.6" x2="30" y2="369.8" stroke="#000" stroke-width="2.2"/>
<text transform="translate(34,389.8) rotate(-90)" font-size="14" stroke="#000" stroke-width="0.5" text-anchor="middle">IFN-γ</text>
<text x="58.4" y="437.4" font-size="14.2" font-weight="normal" text-anchor="start" stroke="#000" stroke-width="0.5" >IL-17</text>
<line x1="93.8" y1="432.5" x2="247.3" y2="432.5" stroke="#000" stroke-width="2.4"/>
<text transform="translate(275.4,322.75) scale(0.94,1)" font-size="30" stroke="#000" stroke-width="0.9">D</text>
<text x="372.15" y="314.5" font-size="14" font-weight="normal" text-anchor="middle" stroke="#000" stroke-width="0.55" >WT</text>
<text x="464.9" y="314.5" font-size="14" stroke="#000" stroke-width="0.55">IL-6<tspan font-size="9.5" dx="0.8" dy="-4.5">-/-</tspan></text>
<path d="M397 364h1v1h-1zM377 366h1v1h-1zM388 366h1v1h-1zM361 367h1v1h-1zM366 367h1v1h-1zM369 367h1v1h-1zM379 367h1v1h-1zM398 367h1v1h-1zM389 368h1v1h-1zM367 369h1v1h-1zM370 370h1v1h-1zM376 370h1v1h-1zM367 372h1v1h-1zM374 372h1v1h-1zM367 373h1v1h-1zM361 374h1v1h-1zM367 374h1v1h-1zM377 374h1v1h-1zM369 375h1v1h-1zM360 376h1v1h-1zM379 377h1v1h-1zM383 377h1v1h-1zM390 377h1v1h-1zM398 377h1v1h-1zM363 378h1v1h-1zM366 379h1v1h-1zM377 379h1v1h-1zM382 379h1v1h-1zM398 379h1v1h-1zM362 380h1v1h-1zM370 381h1v1h-1zM358 384h1v1h-1zM359 384h1v1h-1zM369 384h1v1h-1zM377 384h1v1h-1zM381 384h1v1h-1zM372 385h1v1h-1zM379 385h1v1h-1zM380 385h1v1h-1zM389 385h1v1h-1zM391 385h1v1h-1zM392 385h1v1h-1zM359 386h1v1h-1zM360 386h1v1h-1zM361 386h1v1h-1zM363 386h1v1h-1zM367 386h1v1h-1zM379 386h1v1h-1zM383 386h1v1h-1zM385 386h1v1h-1zM362 387h1v1h-1zM374 387h1v1h-1zM377 387h1v1h-1zM388 387h1v1h-1zM395 387h1v1h-1zM365 388h1v1h-1zM367 388h1v1h-1zM379 388h1v1h-1zM383 388h1v1h-1zM385 388h1v1h-1zM388 388h1v1h-1zM358 389h1v1h-1zM361 389h1v1h-1zM366 389h1v1h-1zM370 389h1v1h-1zM377 389h1v1h-1zM382 389h1v1h-1zM387 389h1v1h-1zM358 390h1v1h-1zM367 390h1v1h-1zM368 390h1v1h-1zM371 390h1v1h-1zM382 390h1v1h-1zM385 390h1v1h-1zM386 390h1v1h-1zM390 390h1v1h-1zM391 390h1v1h-1zM392 390h1v1h-1zM393 390h1v1h-1zM394 390h1v1h-1zM359 391h1v1h-1zM362 391h1v1h-1zM363 391h1v1h-1zM374 391h1v1h-1zM376 391h1v1h-1zM382 391h1v1h-1zM389 391h1v1h-1zM391 391h1v1h-1zM392 391h1v1h-1zM360 392h1v1h-1zM375 392h1v1h-1zM398 392h1v1h-1zM360 393h1v1h-1zM364 393h1v1h-1zM376 393h1v1h-1zM381 393h1v1h-1zM383 393h1v1h-1zM386 393h1v1h-1zM395 393h1v1h-1zM399 393h1v1h-1zM364 394h1v1h-1zM365 394h1v1h-1zM371 394h1v1h-1zM373 394h1v1h-1zM375 394h1v1h-1zM377 394h1v1h-1zM378 394h1v1h-1zM387 394h1v1h-1zM388 394h1v1h-1zM358 395h1v1h-1zM359 395h1v1h-1zM367 395h1v1h-1zM368 395h1v1h-1zM371 395h1v1h-1zM380 395h1v1h-1zM382 395h1v1h-1zM397 395h1v1h-1zM400 395h1v1h-1zM356 396h1v1h-1zM360 396h1v1h-1zM364 396h1v1h-1zM365 396h1v1h-1zM369 396h1v1h-1zM382 396h1v1h-1zM383 396h1v1h-1zM398 396h1v1h-1zM361 397h1v1h-1zM376 397h1v1h-1zM379 397h1v1h-1zM380 397h1v1h-1zM383 397h1v1h-1zM390 397h1v1h-1zM356 398h1v1h-1zM361 398h1v1h-1zM362 398h1v1h-1zM365 398h1v1h-1zM367 398h1v1h-1zM378 398h1v1h-1zM379 398h1v1h-1zM383 398h1v1h-1zM387 398h1v1h-1zM389 398h1v1h-1zM356 399h1v1h-1zM360 399h1v1h-1zM364 399h1v1h-1zM365 399h1v1h-1zM371 399h1v1h-1zM374 399h1v1h-1zM378 399h1v1h-1zM383 399h1v1h-1zM361 400h1v1h-1zM370 400h1v1h-1zM379 400h1v1h-1zM380 400h1v1h-1zM384 400h1v1h-1zM390 400h1v1h-1zM353 401h1v1h-1zM355 401h1v1h-1zM357 401h1v1h-1zM362 401h1v1h-1zM364 401h1v1h-1zM372 401h1v1h-1zM374 401h1v1h-1zM388 401h1v1h-1zM391 401h1v1h-1zM392 401h1v1h-1zM355 402h1v1h-1zM356 402h1v1h-1zM361 402h1v1h-1zM362 402h1v1h-1zM364 402h1v1h-1zM367 402h1v1h-1zM370 402h1v1h-1zM382 402h1v1h-1zM383 402h1v1h-1zM388 402h1v1h-1zM391 402h1v1h-1zM393 402h1v1h-1zM359 403h1v1h-1zM363 403h1v1h-1zM364 403h1v1h-1zM367 403h1v1h-1zM375 403h1v1h-1zM383 403h1v1h-1zM389 403h1v1h-1zM395 403h1v1h-1zM355 404h1v1h-1zM356 404h1v1h-1zM365 404h1v1h-1zM371 404h1v1h-1zM376 404h1v1h-1zM378 404h1v1h-1zM388 404h1v1h-1z" fill="#000" fill-opacity="0.4" shape-rendering="crispEdges" filter="url(#soft)"/>
<path d="M343 346h1v1h-1zM344 346h1v1h-1zM345 346h1v1h-1zM341 347h1v1h-1zM346 347h1v1h-1zM342 348h1v1h-1zM346 348h1v1h-1zM349 348h1v1h-1zM337 349h1v1h-1zM341 349h1v1h-1zM343 349h1v1h-1zM344 349h1v1h-1zM345 349h1v1h-1zM348 349h1v1h-1zM349 349h1v1h-1zM351 349h1v1h-1zM334 350h1v1h-1zM336 350h1v1h-1zM338 350h1v1h-1zM339 350h1v1h-1zM340 350h1v1h-1zM342 350h1v1h-1zM343 350h1v1h-1zM346 350h1v1h-1zM347 350h1v1h-1zM348 350h1v1h-1zM336 351h1v1h-1zM337 351h1v1h-1zM342 351h1v1h-1zM343 351h1v1h-1zM344 351h1v1h-1zM345 351h1v1h-1zM346 351h1v1h-1zM347 351h1v1h-1zM348 351h1v1h-1zM350 351h1v1h-1zM353 351h1v1h-1zM354 351h1v1h-1zM333 352h1v1h-1zM335 352h1v1h-1zM337 352h1v1h-1zM339 352h1v1h-1zM340 352h1v1h-1zM341 352h1v1h-1zM342 352h1v1h-1zM344 352h1v1h-1zM345 352h1v1h-1zM346 352h1v1h-1zM347 352h1v1h-1zM348 352h1v1h-1zM349 352h1v1h-1zM350 352h1v1h-1zM351 352h1v1h-1zM352 352h1v1h-1zM354 352h1v1h-1zM336 353h1v1h-1zM337 353h1v1h-1zM339 353h1v1h-1zM340 353h1v1h-1zM341 353h1v1h-1zM342 353h1v1h-1zM343 353h1v1h-1zM344 353h1v1h-1zM345 353h1v1h-1zM346 353h1v1h-1zM347 353h1v1h-1zM348 353h1v1h-1zM350 353h1v1h-1zM351 353h1v1h-1zM354 353h1v1h-1zM333 354h1v1h-1zM334 354h1v1h-1zM339 354h1v1h-1zM340 354h1v1h-1zM341 354h1v1h-1zM342 354h1v1h-1zM343 354h1v1h-1zM344 354h1v1h-1zM345 354h1v1h-1zM346 354h1v1h-1zM347 354h1v1h-1zM348 354h1v1h-1zM350 354h1v1h-1zM351 354h1v1h-1zM355 354h1v1h-1zM334 355h1v1h-1zM336 355h1v1h-1zM337 355h1v1h-1zM338 355h1v1h-1zM339 355h1v1h-1zM340 355h1v1h-1zM341 355h1v1h-1zM342 355h1v1h-1zM345 355h1v1h-1zM346 355h1v1h-1zM347 355h1v1h-1zM348 355h1v1h-1zM349 355h1v1h-1zM350 355h1v1h-1zM351 355h1v1h-1zM352 355h1v1h-1zM353 355h1v1h-1zM354 355h1v1h-1zM355 355h1v1h-1zM331 356h1v1h-1zM333 356h1v1h-1zM334 356h1v1h-1zM335 356h1v1h-1zM336 356h1v1h-1zM337 356h1v1h-1zM338 356h1v1h-1zM339 356h1v1h-1zM342 356h1v1h-1zM343 356h1v1h-1zM344 356h1v1h-1zM345 356h1v1h-1zM346 356h1v1h-1zM347 356h1v1h-1zM352 356h1v1h-1zM333 357h1v1h-1zM334 357h1v1h-1zM335 357h1v1h-1zM336 357h1v1h-1zM337 357h1v1h-1zM341 357h1v1h-1zM342 357h1v1h-1zM343 357h1v1h-1zM344 357h1v1h-1zM346 357h1v1h-1zM347 357h1v1h-1zM348 357h1v1h-1zM349 357h1v1h-1zM350 357h1v1h-1zM352 357h1v1h-1zM354 357h1v1h-1zM356 357h1v1h-1zM330 358h1v1h-1zM332 358h1v1h-1zM333 358h1v1h-1zM334 358h1v1h-1zM336 358h1v1h-1zM337 358h1v1h-1zM339 358h1v1h-1zM340 358h1v1h-1zM341 358h1v1h-1zM342 358h1v1h-1zM343 358h1v1h-1zM344 358h1v1h-1zM345 358h1v1h-1zM346 358h1v1h-1zM347 358h1v1h-1zM348 358h1v1h-1zM349 358h1v1h-1zM350 358h1v1h-1zM351 358h1v1h-1zM352 358h1v1h-1zM354 358h1v1h-1zM355 358h1v1h-1zM357 358h1v1h-1zM331 359h1v1h-1zM333 359h1v1h-1zM334 359h1v1h-1zM335 359h1v1h-1zM336 359h1v1h-1zM337 359h1v1h-1zM338 359h1v1h-1zM339 359h1v1h-1zM340 359h1v1h-1zM341 359h1v1h-1zM342 359h1v1h-1zM343 359h1v1h-1zM344 359h1v1h-1zM345 359h1v1h-1zM346 359h1v1h-1zM348 359h1v1h-1zM349 359h1v1h-1zM350 359h1v1h-1zM351 359h1v1h-1zM353 359h1v1h-1zM354 359h1v1h-1zM355 359h1v1h-1zM331 360h1v1h-1zM334 360h1v1h-1zM336 360h1v1h-1zM337 360h1v1h-1zM338 360h1v1h-1zM339 360h1v1h-1zM340 360h1v1h-1zM341 360h1v1h-1zM342 360h1v1h-1zM343 360h1v1h-1zM344 360h1v1h-1zM345 360h1v1h-1zM346 360h1v1h-1zM349 360h1v1h-1zM350 360h1v1h-1zM351 360h1v1h-1zM352 360h1v1h-1zM353 360h1v1h-1zM355 360h1v1h-1zM357 360h1v1h-1zM331 361h1v1h-1zM332 361h1v1h-1zM335 361h1v1h-1zM336 361h1v1h-1zM337 361h1v1h-1zM338 361h1v1h-1zM339 361h1v1h-1zM340 361h1v1h-1zM341 361h1v1h-1zM342 361h1v1h-1zM343 361h1v1h-1zM344 361h1v1h-1zM345 361h1v1h-1zM346 361h1v1h-1zM347 361h1v1h-1zM348 361h1v1h-1zM349 361h1v1h-1zM350 361h1v1h-1zM351 361h1v1h-1zM352 361h1v1h-1zM353 361h1v1h-1zM354 361h1v1h-1zM355 361h1v1h-1zM331 362h1v1h-1zM332 362h1v1h-1zM333 362h1v1h-1zM335 362h1v1h-1zM336 362h1v1h-1zM338 362h1v1h-1zM339 362h1v1h-1zM342 362h1v1h-1zM343 362h1v1h-1zM344 362h1v1h-1zM345 362h1v1h-1zM346 362h1v1h-1zM348 362h1v1h-1zM349 362h1v1h-1zM350 362h1v1h-1zM352 362h1v1h-1zM354 362h1v1h-1zM355 362h1v1h-1zM357 362h1v1h-1zM330 363h1v1h-1zM331 363h1v1h-1zM333 363h1v1h-1zM336 363h1v1h-1zM337 363h1v1h-1zM338 363h1v1h-1zM340 363h1v1h-1zM343 363h1v1h-1zM344 363h1v1h-1zM349 363h1v1h-1zM350 363h1v1h-1zM351 363h1v1h-1zM352 363h1v1h-1zM354 363h1v1h-1zM355 363h1v1h-1zM356 363h1v1h-1zM368 363h1v1h-1zM331 364h1v1h-1zM334 364h1v1h-1zM335 364h1v1h-1zM336 364h1v1h-1zM337 364h1v1h-1zM339 364h1v1h-1zM340 364h1v1h-1zM341 364h1v1h-1zM342 364h1v1h-1zM343 364h1v1h-1zM344 364h1v1h-1zM345 364h1v1h-1zM348 364h1v1h-1zM349 364h1v1h-1zM350 364h1v1h-1zM353 364h1v1h-1zM358 364h1v1h-1zM330 365h1v1h-1zM332 365h1v1h-1zM333 365h1v1h-1zM335 365h1v1h-1zM336 365h1v1h-1zM339 365h1v1h-1zM340 365h1v1h-1zM341 365h1v1h-1zM342 365h1v1h-1zM343 365h1v1h-1zM344 365h1v1h-1zM345 365h1v1h-1zM346 365h1v1h-1zM347 365h1v1h-1zM348 365h1v1h-1zM349 365h1v1h-1zM350 365h1v1h-1zM352 365h1v1h-1zM354 365h1v1h-1zM355 365h1v1h-1zM356 365h1v1h-1zM359 365h1v1h-1zM330 366h1v1h-1zM331 366h1v1h-1zM332 366h1v1h-1zM334 366h1v1h-1zM335 366h1v1h-1zM337 366h1v1h-1zM338 366h1v1h-1zM339 366h1v1h-1zM340 366h1v1h-1zM341 366h1v1h-1zM342 366h1v1h-1zM343 366h1v1h-1zM344 366h1v1h-1zM345 366h1v1h-1zM347 366h1v1h-1zM348 366h1v1h-1zM350 366h1v1h-1zM351 366h1v1h-1zM356 366h1v1h-1zM330 367h1v1h-1zM331 367h1v1h-1zM333 367h1v1h-1zM335 367h1v1h-1zM336 367h1v1h-1zM337 367h1v1h-1zM338 367h1v1h-1zM339 367h1v1h-1zM340 367h1v1h-1zM341 367h1v1h-1zM342 367h1v1h-1zM344 367h1v1h-1zM345 367h1v1h-1zM346 367h1v1h-1zM347 367h1v1h-1zM348 367h1v1h-1zM349 367h1v1h-1zM350 367h1v1h-1zM351 367h1v1h-1zM354 367h1v1h-1zM333 368h1v1h-1zM334 368h1v1h-1zM335 368h1v1h-1zM336 368h1v1h-1zM337 368h1v1h-1zM338 368h1v1h-1zM339 368h1v1h-1zM340 368h1v1h-1zM342 368h1v1h-1zM343 368h1v1h-1zM344 368h1v1h-1zM346 368h1v1h-1zM348 368h1v1h-1zM349 368h1v1h-1zM350 368h1v1h-1zM351 368h1v1h-1zM354 368h1v1h-1zM356 368h1v1h-1zM332 369h1v1h-1zM335 369h1v1h-1zM336 369h1v1h-1zM339 369h1v1h-1zM340 369h1v1h-1zM341 369h1v1h-1zM342 369h1v1h-1zM343 369h1v1h-1zM344 369h1v1h-1zM345 369h1v1h-1zM346 369h1v1h-1zM347 369h1v1h-1zM349 369h1v1h-1zM351 369h1v1h-1zM353 369h1v1h-1zM354 369h1v1h-1zM355 369h1v1h-1zM356 369h1v1h-1zM357 369h1v1h-1zM330 370h1v1h-1zM331 370h1v1h-1zM332 370h1v1h-1zM333 370h1v1h-1zM335 370h1v1h-1zM337 370h1v1h-1zM338 370h1v1h-1zM340 370h1v1h-1zM343 370h1v1h-1zM346 370h1v1h-1zM347 370h1v1h-1zM350 370h1v1h-1zM351 370h1v1h-1zM352 370h1v1h-1zM354 370h1v1h-1zM331 371h1v1h-1zM333 371h1v1h-1zM334 371h1v1h-1zM336 371h1v1h-1zM337 371h1v1h-1zM340 371h1v1h-1zM341 371h1v1h-1zM345 371h1v1h-1zM348 371h1v1h-1zM350 371h1v1h-1zM351 371h1v1h-1zM352 371h1v1h-1zM353 371h1v1h-1zM356 371h1v1h-1zM330 372h1v1h-1zM332 372h1v1h-1zM333 372h1v1h-1zM334 372h1v1h-1zM335 372h1v1h-1zM336 372h1v1h-1zM338 372h1v1h-1zM341 372h1v1h-1zM342 372h1v1h-1zM343 372h1v1h-1zM344 372h1v1h-1zM345 372h1v1h-1zM347 372h1v1h-1zM348 372h1v1h-1zM350 372h1v1h-1zM351 372h1v1h-1zM352 372h1v1h-1zM353 372h1v1h-1zM339 373h1v1h-1zM343 373h1v1h-1zM345 373h1v1h-1zM349 373h1v1h-1zM331 374h1v1h-1zM333 374h1v1h-1zM340 374h1v1h-1zM348 374h1v1h-1zM334 375h1v1h-1zM335 375h1v1h-1zM337 375h1v1h-1zM345 375h1v1h-1zM350 375h1v1h-1zM352 375h1v1h-1zM337 376h1v1h-1zM344 376h1v1h-1zM353 376h1v1h-1zM356 376h1v1h-1zM333 377h1v1h-1zM336 377h1v1h-1zM345 377h1v1h-1zM352 377h1v1h-1zM356 377h1v1h-1zM336 378h1v1h-1zM342 378h1v1h-1zM345 378h1v1h-1zM346 378h1v1h-1zM350 378h1v1h-1zM352 378h1v1h-1zM332 379h1v1h-1zM336 379h1v1h-1zM338 379h1v1h-1zM347 379h1v1h-1zM349 379h1v1h-1zM332 380h1v1h-1zM341 380h1v1h-1zM345 380h1v1h-1zM346 380h1v1h-1zM352 380h1v1h-1zM354 380h1v1h-1zM357 380h1v1h-1zM337 381h1v1h-1zM339 381h1v1h-1zM340 381h1v1h-1zM343 381h1v1h-1zM344 381h1v1h-1zM348 381h1v1h-1zM349 381h1v1h-1zM338 382h1v1h-1zM339 382h1v1h-1zM346 382h1v1h-1zM347 382h1v1h-1zM349 382h1v1h-1zM351 382h1v1h-1zM331 383h1v1h-1zM344 383h1v1h-1zM346 383h1v1h-1zM347 383h1v1h-1zM350 383h1v1h-1zM351 383h1v1h-1zM354 383h1v1h-1zM375 383h1v1h-1zM392 383h1v1h-1zM335 384h1v1h-1zM338 384h1v1h-1zM344 384h1v1h-1zM348 384h1v1h-1zM349 384h1v1h-1zM350 384h1v1h-1zM351 384h1v1h-1zM353 384h1v1h-1zM330 385h1v1h-1zM347 385h1v1h-1zM348 385h1v1h-1zM349 385h1v1h-1zM350 385h1v1h-1zM351 385h1v1h-1zM352 385h1v1h-1zM330 386h1v1h-1zM331 386h1v1h-1zM336 386h1v1h-1zM339 386h1v1h-1zM341 386h1v1h-1zM342 386h1v1h-1zM343 386h1v1h-1zM344 386h1v1h-1zM345 386h1v1h-1zM346 386h1v1h-1zM347 386h1v1h-1zM348 386h1v1h-1zM349 386h1v1h-1zM350 386h1v1h-1zM351 386h1v1h-1zM352 386h1v1h-1zM353 386h1v1h-1zM332 387h1v1h-1zM333 387h1v1h-1zM337 387h1v1h-1zM340 387h1v1h-1zM342 387h1v1h-1zM343 387h1v1h-1zM344 387h1v1h-1zM345 387h1v1h-1zM346 387h1v1h-1zM347 387h1v1h-1zM348 387h1v1h-1zM349 387h1v1h-1zM350 387h1v1h-1zM351 387h1v1h-1zM352 387h1v1h-1zM354 387h1v1h-1zM402 387h1v1h-1zM332 388h1v1h-1zM338 388h1v1h-1zM340 388h1v1h-1zM342 388h1v1h-1zM343 388h1v1h-1zM344 388h1v1h-1zM345 388h1v1h-1zM346 388h1v1h-1zM348 388h1v1h-1zM350 388h1v1h-1zM351 388h1v1h-1zM352 388h1v1h-1zM333 389h1v1h-1zM336 389h1v1h-1zM339 389h1v1h-1zM340 389h1v1h-1zM342 389h1v1h-1zM343 389h1v1h-1zM344 389h1v1h-1zM345 389h1v1h-1zM346 389h1v1h-1zM347 389h1v1h-1zM348 389h1v1h-1zM349 389h1v1h-1zM350 389h1v1h-1zM351 389h1v1h-1zM352 389h1v1h-1zM339 390h1v1h-1zM340 390h1v1h-1zM341 390h1v1h-1zM342 390h1v1h-1zM344 390h1v1h-1zM345 390h1v1h-1zM346 390h1v1h-1zM347 390h1v1h-1zM348 390h1v1h-1zM349 390h1v1h-1zM350 390h1v1h-1zM351 390h1v1h-1zM332 391h1v1h-1zM333 391h1v1h-1zM336 391h1v1h-1zM337 391h1v1h-1zM339 391h1v1h-1zM341 391h1v1h-1zM342 391h1v1h-1zM343 391h1v1h-1zM344 391h1v1h-1zM345 391h1v1h-1zM346 391h1v1h-1zM347 391h1v1h-1zM348 391h1v1h-1zM350 391h1v1h-1zM351 391h1v1h-1zM332 392h1v1h-1zM337 392h1v1h-1zM338 392h1v1h-1zM339 392h1v1h-1zM343 392h1v1h-1zM344 392h1v1h-1zM345 392h1v1h-1zM347 392h1v1h-1zM348 392h1v1h-1zM350 392h1v1h-1zM352 392h1v1h-1zM335 393h1v1h-1zM336 393h1v1h-1zM337 393h1v1h-1zM338 393h1v1h-1zM339 393h1v1h-1zM340 393h1v1h-1zM341 393h1v1h-1zM342 393h1v1h-1zM343 393h1v1h-1zM344 393h1v1h-1zM345 393h1v1h-1zM346 393h1v1h-1zM347 393h1v1h-1zM348 393h1v1h-1zM335 394h1v1h-1zM336 394h1v1h-1zM337 394h1v1h-1zM338 394h1v1h-1zM339 394h1v1h-1zM340 394h1v1h-1zM341 394h1v1h-1zM342 394h1v1h-1zM343 394h1v1h-1zM344 394h1v1h-1zM345 394h1v1h-1zM347 394h1v1h-1zM349 394h1v1h-1zM350 394h1v1h-1zM351 394h1v1h-1zM332 395h1v1h-1zM334 395h1v1h-1zM336 395h1v1h-1zM337 395h1v1h-1zM339 395h1v1h-1zM340 395h1v1h-1zM341 395h1v1h-1zM342 395h1v1h-1zM343 395h1v1h-1zM344 395h1v1h-1zM345 395h1v1h-1zM346 395h1v1h-1zM348 395h1v1h-1zM330 396h1v1h-1zM331 396h1v1h-1zM332 396h1v1h-1zM333 396h1v1h-1zM334 396h1v1h-1zM335 396h1v1h-1zM336 396h1v1h-1zM337 396h1v1h-1zM338 396h1v1h-1zM340 396h1v1h-1zM341 396h1v1h-1zM342 396h1v1h-1zM343 396h1v1h-1zM344 396h1v1h-1zM346 396h1v1h-1zM347 396h1v1h-1zM348 396h1v1h-1zM331 397h1v1h-1zM332 397h1v1h-1zM333 397h1v1h-1zM334 397h1v1h-1zM335 397h1v1h-1zM336 397h1v1h-1zM337 397h1v1h-1zM339 397h1v1h-1zM340 397h1v1h-1zM341 397h1v1h-1zM342 397h1v1h-1zM343 397h1v1h-1zM344 397h1v1h-1zM345 397h1v1h-1zM346 397h1v1h-1zM347 397h1v1h-1zM348 397h1v1h-1zM330 398h1v1h-1zM331 398h1v1h-1zM332 398h1v1h-1zM333 398h1v1h-1zM334 398h1v1h-1zM335 398h1v1h-1zM336 398h1v1h-1zM337 398h1v1h-1zM338 398h1v1h-1zM339 398h1v1h-1zM340 398h1v1h-1zM341 398h1v1h-1zM342 398h1v1h-1zM343 398h1v1h-1zM344 398h1v1h-1zM345 398h1v1h-1zM346 398h1v1h-1zM332 399h1v1h-1zM333 399h1v1h-1zM334 399h1v1h-1zM335 399h1v1h-1zM336 399h1v1h-1zM337 399h1v1h-1zM338 399h1v1h-1zM339 399h1v1h-1zM340 399h1v1h-1zM341 399h1v1h-1zM342 399h1v1h-1zM343 399h1v1h-1zM345 399h1v1h-1zM399 399h1v1h-1zM331 400h1v1h-1zM332 400h1v1h-1zM333 400h1v1h-1zM334 400h1v1h-1zM335 400h1v1h-1zM336 400h1v1h-1zM337 400h1v1h-1zM338 400h1v1h-1zM339 400h1v1h-1zM340 400h1v1h-1zM341 400h1v1h-1zM342 400h1v1h-1zM343 400h1v1h-1zM344 400h1v1h-1zM345 400h1v1h-1zM346 400h1v1h-1zM331 401h1v1h-1zM332 401h1v1h-1zM333 401h1v1h-1zM334 401h1v1h-1zM335 401h1v1h-1zM336 401h1v1h-1zM337 401h1v1h-1zM338 401h1v1h-1zM339 401h1v1h-1zM340 401h1v1h-1zM341 401h1v1h-1zM342 401h1v1h-1zM345 401h1v1h-1zM330 402h1v1h-1zM331 402h1v1h-1zM332 402h1v1h-1zM333 402h1v1h-1zM334 402h1v1h-1zM335 402h1v1h-1zM336 402h1v1h-1zM337 402h1v1h-1zM338 402h1v1h-1zM340 402h1v1h-1zM342 402h1v1h-1zM344 402h1v1h-1zM330 403h1v1h-1zM331 403h1v1h-1zM334 403h1v1h-1zM335 403h1v1h-1zM336 403h1v1h-1zM337 403h1v1h-1zM338 403h1v1h-1zM339 403h1v1h-1zM340 403h1v1h-1zM341 403h1v1h-1zM342 403h1v1h-1zM343 403h1v1h-1zM344 403h1v1h-1zM330 404h1v1h-1zM331 404h1v1h-1zM332 404h1v1h-1zM333 404h1v1h-1zM334 404h1v1h-1zM335 404h1v1h-1zM336 404h1v1h-1zM337 404h1v1h-1zM338 404h1v1h-1zM339 404h1v1h-1zM340 404h1v1h-1zM341 404h1v1h-1zM345 404h1v1h-1zM330 405h1v1h-1zM332 405h1v1h-1zM333 405h1v1h-1zM334 405h1v1h-1zM335 405h1v1h-1zM336 405h1v1h-1zM337 405h1v1h-1zM338 405h1v1h-1zM339 405h1v1h-1zM340 405h1v1h-1zM357 405h1v1h-1zM369 405h1v1h-1zM384 405h1v1h-1zM330 406h1v1h-1zM332 406h1v1h-1zM333 406h1v1h-1zM334 406h1v1h-1zM335 406h1v1h-1zM337 406h1v1h-1zM338 406h1v1h-1zM339 406h1v1h-1zM340 406h1v1h-1zM341 406h1v1h-1zM342 406h1v1h-1zM330 407h1v1h-1zM331 407h1v1h-1zM332 407h1v1h-1zM334 407h1v1h-1zM335 407h1v1h-1zM336 407h1v1h-1zM337 407h1v1h-1zM338 407h1v1h-1zM339 407h1v1h-1zM340 407h1v1h-1zM332 408h1v1h-1zM333 408h1v1h-1zM334 408h1v1h-1zM335 408h1v1h-1zM336 408h1v1h-1zM338 408h1v1h-1zM339 408h1v1h-1zM342 408h1v1h-1z" fill="#000" fill-opacity="1.0" shape-rendering="crispEdges" filter="url(#soft)"/>
<rect x="328.6" y="326.7" width="83.5" height="82.80000000000001" fill="none" stroke="#111" stroke-width="1.1"/>
<polyline points="357.7,326.7 357.7,381.2 341,409.5" fill="none" stroke="#333" stroke-width="0.9"/>
<line x1="357.7" y1="383.2" x2="412.1" y2="383.2" stroke="#333" stroke-width="0.9"/>
<text x="329.8" y="334.59999999999997" font-size="7.5" font-weight="bold" text-anchor="start" stroke="#000" stroke-width="0.3" >48.9</text>
<text x="410.3" y="334.59999999999997" font-size="7.5" font-weight="bold" text-anchor="end" stroke="#000" stroke-width="0.3" >0.8</text>
<text x="410.3" y="405.2" font-size="7.5" font-weight="bold" text-anchor="end" stroke="#000" stroke-width="0.3" >6.7</text>
<text x="325.6" y="409.90000000000003" font-size="5.2" font-weight="bold" font-style="italic" stroke="#000" stroke-width="0.3" text-anchor="end">10<tspan font-size="3.8" dy="-2">0</tspan></text>
<text x="328.6" y="416.5" font-size="5.2" font-weight="bold" font-style="italic" stroke="#000" stroke-width="0.3" text-anchor="middle">10<tspan font-size="3.8" dy="-2">0</tspan></text>
<text x="325.6" y="389.90000000000003" font-size="5.2" font-weight="bold" font-style="italic" stroke="#000" stroke-width="0.3" text-anchor="end">10<tspan font-size="3.8" dy="-2">1</tspan></text>
<text x="349.475" y="416.5" font-size="5.2" font-weight="bold" font-style="italic" stroke="#000" stroke-width="0.3" text-anchor="middle">10<tspan font-size="3.8" dy="-2">1</tspan></text>
<text x="325.6" y="369.90000000000003" font-size="5.2" font-weight="bold" font-style="italic" stroke="#000" stroke-width="0.3" text-anchor="end">10<tspan font-size="3.8" dy="-2">2</tspan></text>
<text x="370.35" y="416.5" font-size="5.2" font-weight="bold" font-style="italic" stroke="#000" stroke-width="0.3" text-anchor="middle">10<tspan font-size="3.8" dy="-2">2</tspan></text>
<text x="325.6" y="349.90000000000003" font-size="5.2" font-weight="bold" font-style="italic" stroke="#000" stroke-width="0.3" text-anchor="end">10<tspan font-size="3.8" dy="-2">3</tspan></text>
<text x="391.225" y="416.5" font-size="5.2" font-weight="bold" font-style="italic" stroke="#000" stroke-width="0.3" text-anchor="middle">10<tspan font-size="3.8" dy="-2">3</tspan></text>
<text x="325.6" y="329.90000000000003" font-size="5.2" font-weight="bold" font-style="italic" stroke="#000" stroke-width="0.3" text-anchor="end">10<tspan font-size="3.8" dy="-2">4</tspan></text>
<text x="412.1" y="416.5" font-size="5.2" font-weight="bold" font-style="italic" stroke="#000" stroke-width="0.3" text-anchor="middle">10<tspan font-size="3.8" dy="-2">4</tspan></text>
<text transform="translate(319.20000000000005,360.64799999999997) rotate(-90)" font-size="5" font-weight="bold" stroke="#000" stroke-width="0.25" text-anchor="middle">FL4-H</text>
<text x="370.35" y="421.8" font-size="5" font-weight="bold" stroke="#000" stroke-width="0.25" text-anchor="middle">FL2-H</text>
<path d="M496 356h1v1h-1zM488 357h1v1h-1zM469 359h1v1h-1zM473 362h1v1h-1zM496 364h1v1h-1zM481 367h1v1h-1zM501 375h1v1h-1zM504 375h1v1h-1zM475 378h1v1h-1zM503 380h1v1h-1zM470 385h1v1h-1zM478 385h1v1h-1zM479 386h1v1h-1zM483 386h1v1h-1zM470 387h1v1h-1zM502 388h1v1h-1zM488 389h1v1h-1zM493 390h1v1h-1zM503 390h1v1h-1zM482 391h1v1h-1zM466 392h1v1h-1zM495 392h1v1h-1zM504 393h1v1h-1zM488 394h1v1h-1zM489 394h1v1h-1zM501 395h1v1h-1zM466 396h1v1h-1zM478 397h1v1h-1zM500 400h1v1h-1zM500 402h1v1h-1zM471 403h1v1h-1zM477 404h1v1h-1zM475 405h1v1h-1zM490 405h1v1h-1z" fill="#000" fill-opacity="0.4" shape-rendering="crispEdges" filter="url(#soft)"/>
<path d="M453 343h1v1h-1zM456 344h1v1h-1zM458 344h1v1h-1zM460 344h1v1h-1zM450 345h1v1h-1zM458 345h1v1h-1zM459 345h1v1h-1zM450 346h1v1h-1zM455 346h1v1h-1zM457 346h1v1h-1zM458 346h1v1h-1zM459 346h1v1h-1zM460 346h1v1h-1zM461 346h1v1h-1zM451 347h1v1h-1zM452 347h1v1h-1zM454 347h1v1h-1zM455 347h1v1h-1zM456 347h1v1h-1zM457 347h1v1h-1zM458 347h1v1h-1zM459 347h1v1h-1zM452 348h1v1h-1zM453 348h1v1h-1zM455 348h1v1h-1zM456 348h1v1h-1zM457 348h1v1h-1zM458 348h1v1h-1zM459 348h1v1h-1zM460 348h1v1h-1zM449 349h1v1h-1zM450 349h1v1h-1zM451 349h1v1h-1zM452 349h1v1h-1zM453 349h1v1h-1zM454 349h1v1h-1zM455 349h1v1h-1zM457 349h1v1h-1zM458 349h1v1h-1zM459 349h1v1h-1zM460 349h1v1h-1zM446 350h1v1h-1zM448 350h1v1h-1zM449 350h1v1h-1zM450 350h1v1h-1zM451 350h1v1h-1zM452 350h1v1h-1zM453 350h1v1h-1zM454 350h1v1h-1zM455 350h1v1h-1zM456 350h1v1h-1zM457 350h1v1h-1zM460 350h1v1h-1zM462 350h1v1h-1zM446 351h1v1h-1zM447 351h1v1h-1zM448 351h1v1h-1zM450 351h1v1h-1zM451 351h1v1h-1zM452 351h1v1h-1zM453 351h1v1h-1zM455 351h1v1h-1zM456 351h1v1h-1zM457 351h1v1h-1zM458 351h1v1h-1zM459 351h1v1h-1zM444 352h1v1h-1zM445 352h1v1h-1zM446 352h1v1h-1zM447 352h1v1h-1zM448 352h1v1h-1zM449 352h1v1h-1zM450 352h1v1h-1zM451 352h1v1h-1zM452 352h1v1h-1zM454 352h1v1h-1zM455 352h1v1h-1zM457 352h1v1h-1zM458 352h1v1h-1zM459 352h1v1h-1zM460 352h1v1h-1zM461 352h1v1h-1zM444 353h1v1h-1zM447 353h1v1h-1zM448 353h1v1h-1zM449 353h1v1h-1zM450 353h1v1h-1zM451 353h1v1h-1zM452 353h1v1h-1zM453 353h1v1h-1zM454 353h1v1h-1zM455 353h1v1h-1zM456 353h1v1h-1zM457 353h1v1h-1zM458 353h1v1h-1zM459 353h1v1h-1zM460 353h1v1h-1zM445 354h1v1h-1zM447 354h1v1h-1zM448 354h1v1h-1zM449 354h1v1h-1zM450 354h1v1h-1zM451 354h1v1h-1zM452 354h1v1h-1zM453 354h1v1h-1zM454 354h1v1h-1zM455 354h1v1h-1zM456 354h1v1h-1zM457 354h1v1h-1zM458 354h1v1h-1zM459 354h1v1h-1zM461 354h1v1h-1zM444 355h1v1h-1zM446 355h1v1h-1zM447 355h1v1h-1zM448 355h1v1h-1zM450 355h1v1h-1zM451 355h1v1h-1zM452 355h1v1h-1zM453 355h1v1h-1zM454 355h1v1h-1zM455 355h1v1h-1zM456 355h1v1h-1zM457 355h1v1h-1zM458 355h1v1h-1zM445 356h1v1h-1zM447 356h1v1h-1zM449 356h1v1h-1zM450 356h1v1h-1zM451 356h1v1h-1zM452 356h1v1h-1zM453 356h1v1h-1zM454 356h1v1h-1zM456 356h1v1h-1zM457 356h1v1h-1zM458 356h1v1h-1zM459 356h1v1h-1zM442 357h1v1h-1zM443 357h1v1h-1zM445 357h1v1h-1zM446 357h1v1h-1zM447 357h1v1h-1zM448 357h1v1h-1zM449 357h1v1h-1zM451 357h1v1h-1zM452 357h1v1h-1zM453 357h1v1h-1zM454 357h1v1h-1zM456 357h1v1h-1zM457 357h1v1h-1zM458 357h1v1h-1zM459 357h1v1h-1zM440 358h1v1h-1zM442 358h1v1h-1zM443 358h1v1h-1zM445 358h1v1h-1zM446 358h1v1h-1zM447 358h1v1h-1zM448 358h1v1h-1zM449 358h1v1h-1zM450 358h1v1h-1zM451 358h1v1h-1zM452 358h1v1h-1zM453 358h1v1h-1zM454 358h1v1h-1zM455 358h1v1h-1zM457 358h1v1h-1zM460 358h1v1h-1zM440 359h1v1h-1zM441 359h1v1h-1zM442 359h1v1h-1zM443 359h1v1h-1zM444 359h1v1h-1zM445 359h1v1h-1zM446 359h1v1h-1zM447 359h1v1h-1zM448 359h1v1h-1zM449 359h1v1h-1zM450 359h1v1h-1zM451 359h1v1h-1zM452 359h1v1h-1zM453 359h1v1h-1zM454 359h1v1h-1zM455 359h1v1h-1zM458 359h1v1h-1zM459 359h1v1h-1zM460 359h1v1h-1zM461 359h1v1h-1zM438 360h1v1h-1zM439 360h1v1h-1zM440 360h1v1h-1zM441 360h1v1h-1zM442 360h1v1h-1zM443 360h1v1h-1zM444 360h1v1h-1zM445 360h1v1h-1zM446 360h1v1h-1zM447 360h1v1h-1zM448 360h1v1h-1zM449 360h1v1h-1zM450 360h1v1h-1zM451 360h1v1h-1zM452 360h1v1h-1zM453 360h1v1h-1zM454 360h1v1h-1zM456 360h1v1h-1zM457 360h1v1h-1zM458 360h1v1h-1zM459 360h1v1h-1zM460 360h1v1h-1zM438 361h1v1h-1zM439 361h1v1h-1zM441 361h1v1h-1zM442 361h1v1h-1zM444 361h1v1h-1zM445 361h1v1h-1zM446 361h1v1h-1zM447 361h1v1h-1zM448 361h1v1h-1zM449 361h1v1h-1zM450 361h1v1h-1zM451 361h1v1h-1zM452 361h1v1h-1zM453 361h1v1h-1zM454 361h1v1h-1zM455 361h1v1h-1zM456 361h1v1h-1zM457 361h1v1h-1zM458 361h1v1h-1zM459 361h1v1h-1zM461 361h1v1h-1zM436 362h1v1h-1zM438 362h1v1h-1zM439 362h1v1h-1zM440 362h1v1h-1zM441 362h1v1h-1zM442 362h1v1h-1zM444 362h1v1h-1zM445 362h1v1h-1zM446 362h1v1h-1zM447 362h1v1h-1zM448 362h1v1h-1zM449 362h1v1h-1zM450 362h1v1h-1zM451 362h1v1h-1zM452 362h1v1h-1zM453 362h1v1h-1zM454 362h1v1h-1zM455 362h1v1h-1zM456 362h1v1h-1zM457 362h1v1h-1zM459 362h1v1h-1zM461 362h1v1h-1zM436 363h1v1h-1zM437 363h1v1h-1zM439 363h1v1h-1zM441 363h1v1h-1zM442 363h1v1h-1zM443 363h1v1h-1zM444 363h1v1h-1zM445 363h1v1h-1zM446 363h1v1h-1zM447 363h1v1h-1zM448 363h1v1h-1zM449 363h1v1h-1zM450 363h1v1h-1zM451 363h1v1h-1zM453 363h1v1h-1zM454 363h1v1h-1zM455 363h1v1h-1zM456 363h1v1h-1zM458 363h1v1h-1zM459 363h1v1h-1zM436 364h1v1h-1zM437 364h1v1h-1zM438 364h1v1h-1zM439 364h1v1h-1zM440 364h1v1h-1zM441 364h1v1h-1zM442 364h1v1h-1zM443 364h1v1h-1zM444 364h1v1h-1zM445 364h1v1h-1zM446 364h1v1h-1zM447 364h1v1h-1zM448 364h1v1h-1zM449 364h1v1h-1zM450 364h1v1h-1zM451 364h1v1h-1zM452 364h1v1h-1zM453 364h1v1h-1zM454 364h1v1h-1zM455 364h1v1h-1zM456 364h1v1h-1zM457 364h1v1h-1zM458 364h1v1h-1zM459 364h1v1h-1zM460 364h1v1h-1zM436 365h1v1h-1zM437 365h1v1h-1zM438 365h1v1h-1zM439 365h1v1h-1zM440 365h1v1h-1zM441 365h1v1h-1zM442 365h1v1h-1zM443 365h1v1h-1zM444 365h1v1h-1zM445 365h1v1h-1zM446 365h1v1h-1zM447 365h1v1h-1zM448 365h1v1h-1zM449 365h1v1h-1zM452 365h1v1h-1zM453 365h1v1h-1zM454 365h1v1h-1zM455 365h1v1h-1zM456 365h1v1h-1zM457 365h1v1h-1zM458 365h1v1h-1zM459 365h1v1h-1zM460 365h1v1h-1zM436 366h1v1h-1zM442 366h1v1h-1zM443 366h1v1h-1zM444 366h1v1h-1zM445 366h1v1h-1zM446 366h1v1h-1zM447 366h1v1h-1zM448 366h1v1h-1zM449 366h1v1h-1zM450 366h1v1h-1zM451 366h1v1h-1zM452 366h1v1h-1zM453 366h1v1h-1zM454 366h1v1h-1zM456 366h1v1h-1zM457 366h1v1h-1zM458 366h1v1h-1zM459 366h1v1h-1zM460 366h1v1h-1zM438 367h1v1h-1zM439 367h1v1h-1zM440 367h1v1h-1zM441 367h1v1h-1zM442 367h1v1h-1zM443 367h1v1h-1zM444 367h1v1h-1zM445 367h1v1h-1zM446 367h1v1h-1zM447 367h1v1h-1zM448 367h1v1h-1zM449 367h1v1h-1zM450 367h1v1h-1zM451 367h1v1h-1zM453 367h1v1h-1zM454 367h1v1h-1zM455 367h1v1h-1zM456 367h1v1h-1zM457 367h1v1h-1zM458 367h1v1h-1zM459 367h1v1h-1zM438 368h1v1h-1zM439 368h1v1h-1zM440 368h1v1h-1zM441 368h1v1h-1zM442 368h1v1h-1zM443 368h1v1h-1zM444 368h1v1h-1zM445 368h1v1h-1zM446 368h1v1h-1zM447 368h1v1h-1zM448 368h1v1h-1zM449 368h1v1h-1zM450 368h1v1h-1zM451 368h1v1h-1zM452 368h1v1h-1zM453 368h1v1h-1zM454 368h1v1h-1zM455 368h1v1h-1zM456 368h1v1h-1zM457 368h1v1h-1zM458 368h1v1h-1zM459 368h1v1h-1zM461 368h1v1h-1zM436 369h1v1h-1zM437 369h1v1h-1zM438 369h1v1h-1zM439 369h1v1h-1zM440 369h1v1h-1zM441 369h1v1h-1zM442 369h1v1h-1zM443 369h1v1h-1zM444 369h1v1h-1zM445 369h1v1h-1zM446 369h1v1h-1zM447 369h1v1h-1zM448 369h1v1h-1zM449 369h1v1h-1zM450 369h1v1h-1zM452 369h1v1h-1zM453 369h1v1h-1zM454 369h1v1h-1zM455 369h1v1h-1zM456 369h1v1h-1zM457 369h1v1h-1zM458 369h1v1h-1zM459 369h1v1h-1zM436 370h1v1h-1zM437 370h1v1h-1zM439 370h1v1h-1zM440 370h1v1h-1zM441 370h1v1h-1zM443 370h1v1h-1zM444 370h1v1h-1zM445 370h1v1h-1zM446 370h1v1h-1zM448 370h1v1h-1zM449 370h1v1h-1zM450 370h1v1h-1zM451 370h1v1h-1zM452 370h1v1h-1zM453 370h1v1h-1zM454 370h1v1h-1zM455 370h1v1h-1zM456 370h1v1h-1zM457 370h1v1h-1zM458 370h1v1h-1zM459 370h1v1h-1zM460 370h1v1h-1zM462 370h1v1h-1zM436 371h1v1h-1zM437 371h1v1h-1zM439 371h1v1h-1zM440 371h1v1h-1zM442 371h1v1h-1zM443 371h1v1h-1zM444 371h1v1h-1zM445 371h1v1h-1zM446 371h1v1h-1zM447 371h1v1h-1zM448 371h1v1h-1zM449 371h1v1h-1zM450 371h1v1h-1zM451 371h1v1h-1zM452 371h1v1h-1zM453 371h1v1h-1zM454 371h1v1h-1zM455 371h1v1h-1zM456 371h1v1h-1zM457 371h1v1h-1zM458 371h1v1h-1zM459 371h1v1h-1zM461 371h1v1h-1zM436 372h1v1h-1zM437 372h1v1h-1zM438 372h1v1h-1zM439 372h1v1h-1zM440 372h1v1h-1zM441 372h1v1h-1zM442 372h1v1h-1zM444 372h1v1h-1zM445 372h1v1h-1zM446 372h1v1h-1zM448 372h1v1h-1zM449 372h1v1h-1zM451 372h1v1h-1zM452 372h1v1h-1zM453 372h1v1h-1zM454 372h1v1h-1zM455 372h1v1h-1zM456 372h1v1h-1zM457 372h1v1h-1zM458 372h1v1h-1zM459 372h1v1h-1zM461 372h1v1h-1zM437 373h1v1h-1zM438 373h1v1h-1zM439 373h1v1h-1zM440 373h1v1h-1zM441 373h1v1h-1zM442 373h1v1h-1zM443 373h1v1h-1zM444 373h1v1h-1zM445 373h1v1h-1zM447 373h1v1h-1zM448 373h1v1h-1zM449 373h1v1h-1zM450 373h1v1h-1zM451 373h1v1h-1zM452 373h1v1h-1zM453 373h1v1h-1zM454 373h1v1h-1zM455 373h1v1h-1zM456 373h1v1h-1zM457 373h1v1h-1zM459 373h1v1h-1zM460 373h1v1h-1zM461 373h1v1h-1zM437 374h1v1h-1zM438 374h1v1h-1zM439 374h1v1h-1zM440 374h1v1h-1zM441 374h1v1h-1zM442 374h1v1h-1zM443 374h1v1h-1zM445 374h1v1h-1zM446 374h1v1h-1zM447 374h1v1h-1zM448 374h1v1h-1zM449 374h1v1h-1zM450 374h1v1h-1zM452 374h1v1h-1zM453 374h1v1h-1zM454 374h1v1h-1zM455 374h1v1h-1zM456 374h1v1h-1zM458 374h1v1h-1zM462 374h1v1h-1zM436 375h1v1h-1zM437 375h1v1h-1zM438 375h1v1h-1zM439 375h1v1h-1zM440 375h1v1h-1zM441 375h1v1h-1zM442 375h1v1h-1zM443 375h1v1h-1zM444 375h1v1h-1zM445 375h1v1h-1zM447 375h1v1h-1zM448 375h1v1h-1zM449 375h1v1h-1zM450 375h1v1h-1zM451 375h1v1h-1zM452 375h1v1h-1zM453 375h1v1h-1zM454 375h1v1h-1zM455 375h1v1h-1zM456 375h1v1h-1zM458 375h1v1h-1zM459 375h1v1h-1zM460 375h1v1h-1zM436 376h1v1h-1zM437 376h1v1h-1zM438 376h1v1h-1zM439 376h1v1h-1zM440 376h1v1h-1zM441 376h1v1h-1zM442 376h1v1h-1zM443 376h1v1h-1zM444 376h1v1h-1zM445 376h1v1h-1zM446 376h1v1h-1zM447 376h1v1h-1zM448 376h1v1h-1zM449 376h1v1h-1zM450 376h1v1h-1zM451 376h1v1h-1zM452 376h1v1h-1zM453 376h1v1h-1zM454 376h1v1h-1zM455 376h1v1h-1zM456 376h1v1h-1zM457 376h1v1h-1zM458 376h1v1h-1zM459 376h1v1h-1zM460 376h1v1h-1zM461 376h1v1h-1zM436 377h1v1h-1zM437 377h1v1h-1zM438 377h1v1h-1zM439 377h1v1h-1zM440 377h1v1h-1zM441 377h1v1h-1zM442 377h1v1h-1zM443 377h1v1h-1zM444 377h1v1h-1zM445 377h1v1h-1zM446 377h1v1h-1zM447 377h1v1h-1zM448 377h1v1h-1zM449 377h1v1h-1zM450 377h1v1h-1zM451 377h1v1h-1zM452 377h1v1h-1zM453 377h1v1h-1zM454 377h1v1h-1zM455 377h1v1h-1zM456 377h1v1h-1zM457 377h1v1h-1zM458 377h1v1h-1zM459 377h1v1h-1zM436 378h1v1h-1zM437 378h1v1h-1zM438 378h1v1h-1zM439 378h1v1h-1zM440 378h1v1h-1zM441 378h1v1h-1zM442 378h1v1h-1zM443 378h1v1h-1zM444 378h1v1h-1zM445 378h1v1h-1zM447 378h1v1h-1zM448 378h1v1h-1zM449 378h1v1h-1zM450 378h1v1h-1zM451 378h1v1h-1zM452 378h1v1h-1zM453 378h1v1h-1zM454 378h1v1h-1zM455 378h1v1h-1zM457 378h1v1h-1zM459 378h1v1h-1zM460 378h1v1h-1zM436 379h1v1h-1zM437 379h1v1h-1zM438 379h1v1h-1zM439 379h1v1h-1zM442 379h1v1h-1zM443 379h1v1h-1zM444 379h1v1h-1zM445 379h1v1h-1zM446 379h1v1h-1zM447 379h1v1h-1zM448 379h1v1h-1zM449 379h1v1h-1zM450 379h1v1h-1zM451 379h1v1h-1zM452 379h1v1h-1zM453 379h1v1h-1zM454 379h1v1h-1zM455 379h1v1h-1zM456 379h1v1h-1zM457 379h1v1h-1zM458 379h1v1h-1zM459 379h1v1h-1zM462 379h1v1h-1zM436 380h1v1h-1zM437 380h1v1h-1zM438 380h1v1h-1zM439 380h1v1h-1zM440 380h1v1h-1zM441 380h1v1h-1zM442 380h1v1h-1zM444 380h1v1h-1zM445 380h1v1h-1zM446 380h1v1h-1zM447 380h1v1h-1zM448 380h1v1h-1zM449 380h1v1h-1zM450 380h1v1h-1zM451 380h1v1h-1zM452 380h1v1h-1zM453 380h1v1h-1zM454 380h1v1h-1zM455 380h1v1h-1zM457 380h1v1h-1zM458 380h1v1h-1zM436 381h1v1h-1zM437 381h1v1h-1zM438 381h1v1h-1zM439 381h1v1h-1zM440 381h1v1h-1zM441 381h1v1h-1zM442 381h1v1h-1zM443 381h1v1h-1zM444 381h1v1h-1zM445 381h1v1h-1zM446 381h1v1h-1zM448 381h1v1h-1zM450 381h1v1h-1zM451 381h1v1h-1zM452 381h1v1h-1zM453 381h1v1h-1zM454 381h1v1h-1zM455 381h1v1h-1zM456 381h1v1h-1zM457 381h1v1h-1zM458 381h1v1h-1zM459 381h1v1h-1zM460 381h1v1h-1zM436 382h1v1h-1zM437 382h1v1h-1zM438 382h1v1h-1zM439 382h1v1h-1zM440 382h1v1h-1zM441 382h1v1h-1zM442 382h1v1h-1zM443 382h1v1h-1zM444 382h1v1h-1zM445 382h1v1h-1zM446 382h1v1h-1zM447 382h1v1h-1zM448 382h1v1h-1zM449 382h1v1h-1zM450 382h1v1h-1zM451 382h1v1h-1zM452 382h1v1h-1zM453 382h1v1h-1zM454 382h1v1h-1zM456 382h1v1h-1zM457 382h1v1h-1zM458 382h1v1h-1zM459 382h1v1h-1zM460 382h1v1h-1zM461 382h1v1h-1zM437 383h1v1h-1zM438 383h1v1h-1zM439 383h1v1h-1zM440 383h1v1h-1zM441 383h1v1h-1zM442 383h1v1h-1zM443 383h1v1h-1zM444 383h1v1h-1zM445 383h1v1h-1zM446 383h1v1h-1zM447 383h1v1h-1zM449 383h1v1h-1zM450 383h1v1h-1zM451 383h1v1h-1zM452 383h1v1h-1zM453 383h1v1h-1zM454 383h1v1h-1zM455 383h1v1h-1zM456 383h1v1h-1zM457 383h1v1h-1zM458 383h1v1h-1zM459 383h1v1h-1zM462 383h1v1h-1zM436 384h1v1h-1zM437 384h1v1h-1zM438 384h1v1h-1zM439 384h1v1h-1zM440 384h1v1h-1zM441 384h1v1h-1zM442 384h1v1h-1zM443 384h1v1h-1zM444 384h1v1h-1zM445 384h1v1h-1zM446 384h1v1h-1zM448 384h1v1h-1zM449 384h1v1h-1zM450 384h1v1h-1zM451 384h1v1h-1zM452 384h1v1h-1zM453 384h1v1h-1zM454 384h1v1h-1zM455 384h1v1h-1zM456 384h1v1h-1zM457 384h1v1h-1zM458 384h1v1h-1zM459 384h1v1h-1zM460 384h1v1h-1zM506 384h1v1h-1zM436 385h1v1h-1zM437 385h1v1h-1zM438 385h1v1h-1zM441 385h1v1h-1zM442 385h1v1h-1zM443 385h1v1h-1zM444 385h1v1h-1zM445 385h1v1h-1zM447 385h1v1h-1zM448 385h1v1h-1zM449 385h1v1h-1zM450 385h1v1h-1zM451 385h1v1h-1zM452 385h1v1h-1zM453 385h1v1h-1zM454 385h1v1h-1zM456 385h1v1h-1zM457 385h1v1h-1zM459 385h1v1h-1zM460 385h1v1h-1zM436 386h1v1h-1zM437 386h1v1h-1zM438 386h1v1h-1zM439 386h1v1h-1zM440 386h1v1h-1zM441 386h1v1h-1zM442 386h1v1h-1zM443 386h1v1h-1zM444 386h1v1h-1zM445 386h1v1h-1zM446 386h1v1h-1zM447 386h1v1h-1zM448 386h1v1h-1zM449 386h1v1h-1zM450 386h1v1h-1zM451 386h1v1h-1zM453 386h1v1h-1zM454 386h1v1h-1zM455 386h1v1h-1zM456 386h1v1h-1zM457 386h1v1h-1zM458 386h1v1h-1zM459 386h1v1h-1zM437 387h1v1h-1zM438 387h1v1h-1zM439 387h1v1h-1zM440 387h1v1h-1zM441 387h1v1h-1zM442 387h1v1h-1zM443 387h1v1h-1zM446 387h1v1h-1zM448 387h1v1h-1zM449 387h1v1h-1zM451 387h1v1h-1zM452 387h1v1h-1zM453 387h1v1h-1zM455 387h1v1h-1zM456 387h1v1h-1zM457 387h1v1h-1zM458 387h1v1h-1zM459 387h1v1h-1zM460 387h1v1h-1zM436 388h1v1h-1zM437 388h1v1h-1zM438 388h1v1h-1zM439 388h1v1h-1zM440 388h1v1h-1zM441 388h1v1h-1zM442 388h1v1h-1zM443 388h1v1h-1zM444 388h1v1h-1zM445 388h1v1h-1zM446 388h1v1h-1zM447 388h1v1h-1zM448 388h1v1h-1zM449 388h1v1h-1zM450 388h1v1h-1zM451 388h1v1h-1zM453 388h1v1h-1zM454 388h1v1h-1zM455 388h1v1h-1zM456 388h1v1h-1zM457 388h1v1h-1zM458 388h1v1h-1zM460 388h1v1h-1zM437 389h1v1h-1zM438 389h1v1h-1zM439 389h1v1h-1zM440 389h1v1h-1zM441 389h1v1h-1zM443 389h1v1h-1zM444 389h1v1h-1zM445 389h1v1h-1zM446 389h1v1h-1zM447 389h1v1h-1zM448 389h1v1h-1zM449 389h1v1h-1zM450 389h1v1h-1zM451 389h1v1h-1zM452 389h1v1h-1zM453 389h1v1h-1zM454 389h1v1h-1zM455 389h1v1h-1zM456 389h1v1h-1zM457 389h1v1h-1zM436 390h1v1h-1zM438 390h1v1h-1zM439 390h1v1h-1zM440 390h1v1h-1zM441 390h1v1h-1zM442 390h1v1h-1zM443 390h1v1h-1zM444 390h1v1h-1zM445 390h1v1h-1zM446 390h1v1h-1zM448 390h1v1h-1zM449 390h1v1h-1zM450 390h1v1h-1zM451 390h1v1h-1zM452 390h1v1h-1zM453 390h1v1h-1zM454 390h1v1h-1zM455 390h1v1h-1zM456 390h1v1h-1zM457 390h1v1h-1zM436 391h1v1h-1zM437 391h1v1h-1zM438 391h1v1h-1zM439 391h1v1h-1zM440 391h1v1h-1zM441 391h1v1h-1zM442 391h1v1h-1zM443 391h1v1h-1zM444 391h1v1h-1zM445 391h1v1h-1zM446 391h1v1h-1zM447 391h1v1h-1zM448 391h1v1h-1zM449 391h1v1h-1zM450 391h1v1h-1zM451 391h1v1h-1zM452 391h1v1h-1zM453 391h1v1h-1zM454 391h1v1h-1zM455 391h1v1h-1zM456 391h1v1h-1zM457 391h1v1h-1zM458 391h1v1h-1zM436 392h1v1h-1zM437 392h1v1h-1zM438 392h1v1h-1zM439 392h1v1h-1zM440 392h1v1h-1zM441 392h1v1h-1zM442 392h1v1h-1zM443 392h1v1h-1zM444 392h1v1h-1zM445 392h1v1h-1zM446 392h1v1h-1zM447 392h1v1h-1zM448 392h1v1h-1zM450 392h1v1h-1zM451 392h1v1h-1zM453 392h1v1h-1zM454 392h1v1h-1zM455 392h1v1h-1zM457 392h1v1h-1zM436 393h1v1h-1zM437 393h1v1h-1zM438 393h1v1h-1zM439 393h1v1h-1zM440 393h1v1h-1zM441 393h1v1h-1zM442 393h1v1h-1zM443 393h1v1h-1zM444 393h1v1h-1zM447 393h1v1h-1zM448 393h1v1h-1zM449 393h1v1h-1zM450 393h1v1h-1zM451 393h1v1h-1zM452 393h1v1h-1zM454 393h1v1h-1zM455 393h1v1h-1zM456 393h1v1h-1zM457 393h1v1h-1zM437 394h1v1h-1zM438 394h1v1h-1zM439 394h1v1h-1zM440 394h1v1h-1zM442 394h1v1h-1zM444 394h1v1h-1zM445 394h1v1h-1zM446 394h1v1h-1zM447 394h1v1h-1zM448 394h1v1h-1zM449 394h1v1h-1zM450 394h1v1h-1zM452 394h1v1h-1zM453 394h1v1h-1zM457 394h1v1h-1zM436 395h1v1h-1zM437 395h1v1h-1zM439 395h1v1h-1zM440 395h1v1h-1zM441 395h1v1h-1zM442 395h1v1h-1zM443 395h1v1h-1zM444 395h1v1h-1zM445 395h1v1h-1zM446 395h1v1h-1zM447 395h1v1h-1zM448 395h1v1h-1zM449 395h1v1h-1zM450 395h1v1h-1zM452 395h1v1h-1zM453 395h1v1h-1zM454 395h1v1h-1zM455 395h1v1h-1zM456 395h1v1h-1zM436 396h1v1h-1zM437 396h1v1h-1zM438 396h1v1h-1zM439 396h1v1h-1zM440 396h1v1h-1zM441 396h1v1h-1zM442 396h1v1h-1zM443 396h1v1h-1zM447 396h1v1h-1zM448 396h1v1h-1zM449 396h1v1h-1zM450 396h1v1h-1zM451 396h1v1h-1zM452 396h1v1h-1zM453 396h1v1h-1zM454 396h1v1h-1zM455 396h1v1h-1zM456 396h1v1h-1zM438 397h1v1h-1zM439 397h1v1h-1zM440 397h1v1h-1zM441 397h1v1h-1zM442 397h1v1h-1zM443 397h1v1h-1zM444 397h1v1h-1zM445 397h1v1h-1zM446 397h1v1h-1zM447 397h1v1h-1zM448 397h1v1h-1zM449 397h1v1h-1zM450 397h1v1h-1zM451 397h1v1h-1zM452 397h1v1h-1zM453 397h1v1h-1zM454 397h1v1h-1zM436 398h1v1h-1zM437 398h1v1h-1zM438 398h1v1h-1zM439 398h1v1h-1zM440 398h1v1h-1zM441 398h1v1h-1zM442 398h1v1h-1zM443 398h1v1h-1zM444 398h1v1h-1zM445 398h1v1h-1zM446 398h1v1h-1zM447 398h1v1h-1zM448 398h1v1h-1zM449 398h1v1h-1zM450 398h1v1h-1zM451 398h1v1h-1zM453 398h1v1h-1zM436 399h1v1h-1zM438 399h1v1h-1zM439 399h1v1h-1zM440 399h1v1h-1zM442 399h1v1h-1zM443 399h1v1h-1zM445 399h1v1h-1zM446 399h1v1h-1zM448 399h1v1h-1zM449 399h1v1h-1zM450 399h1v1h-1zM436 400h1v1h-1zM437 400h1v1h-1zM439 400h1v1h-1zM440 400h1v1h-1zM441 400h1v1h-1zM442 400h1v1h-1zM443 400h1v1h-1zM444 400h1v1h-1zM445 400h1v1h-1zM446 400h1v1h-1zM447 400h1v1h-1zM448 400h1v1h-1zM449 400h1v1h-1zM453 400h1v1h-1zM436 401h1v1h-1zM437 401h1v1h-1zM438 401h1v1h-1zM439 401h1v1h-1zM440 401h1v1h-1zM441 401h1v1h-1zM442 401h1v1h-1zM443 401h1v1h-1zM444 401h1v1h-1zM445 401h1v1h-1zM446 401h1v1h-1zM447 401h1v1h-1zM448 401h1v1h-1zM449 401h1v1h-1zM450 401h1v1h-1zM451 401h1v1h-1zM436 402h1v1h-1zM438 402h1v1h-1zM439 402h1v1h-1zM440 402h1v1h-1zM441 402h1v1h-1zM442 402h1v1h-1zM443 402h1v1h-1zM444 402h1v1h-1zM447 402h1v1h-1zM448 402h1v1h-1zM449 402h1v1h-1zM452 402h1v1h-1zM437 403h1v1h-1zM438 403h1v1h-1zM439 403h1v1h-1zM440 403h1v1h-1zM441 403h1v1h-1zM442 403h1v1h-1zM444 403h1v1h-1zM445 403h1v1h-1zM446 403h1v1h-1zM447 403h1v1h-1zM448 403h1v1h-1zM450 403h1v1h-1zM436 404h1v1h-1zM437 404h1v1h-1zM438 404h1v1h-1zM440 404h1v1h-1zM441 404h1v1h-1zM443 404h1v1h-1zM444 404h1v1h-1zM446 404h1v1h-1zM447 404h1v1h-1zM448 404h1v1h-1zM450 404h1v1h-1zM436 405h1v1h-1zM437 405h1v1h-1zM438 405h1v1h-1zM440 405h1v1h-1zM441 405h1v1h-1zM442 405h1v1h-1zM444 405h1v1h-1zM445 405h1v1h-1zM446 405h1v1h-1zM447 405h1v1h-1zM449 405h1v1h-1zM450 405h1v1h-1zM436 406h1v1h-1zM437 406h1v1h-1zM438 406h1v1h-1zM439 406h1v1h-1zM440 406h1v1h-1zM441 406h1v1h-1zM442 406h1v1h-1zM443 406h1v1h-1zM444 406h1v1h-1zM445 406h1v1h-1zM446 406h1v1h-1zM447 406h1v1h-1zM495 406h1v1h-1zM436 407h1v1h-1zM437 407h1v1h-1zM439 407h1v1h-1zM441 407h1v1h-1zM443 407h1v1h-1zM444 407h1v1h-1zM445 407h1v1h-1zM446 407h1v1h-1zM447 407h1v1h-1zM448 407h1v1h-1zM437 408h1v1h-1zM438 408h1v1h-1zM439 408h1v1h-1zM440 408h1v1h-1zM442 408h1v1h-1zM443 408h1v1h-1zM444 408h1v1h-1zM445 408h1v1h-1zM479 408h1v1h-1z" fill="#000" fill-opacity="1.0" shape-rendering="crispEdges" filter="url(#soft)"/>
<rect x="434.6" y="326.7" width="83.0" height="82.80000000000001" fill="none" stroke="#111" stroke-width="1.1"/>
<line x1="434.6" y1="326.7" x2="434.6" y2="409.5" stroke="#000" stroke-width="2"/>
<polyline points="463.9,326.7 463.9,380.8 446,409.5" fill="none" stroke="#333" stroke-width="0.9"/>
<line x1="463.9" y1="382.8" x2="517.6" y2="382.8" stroke="#333" stroke-width="0.9"/>
<text x="435.8" y="334.59999999999997" font-size="7.5" font-weight="bold" text-anchor="start" stroke="#000" stroke-width="0.3" >51.3</text>
<text x="515.8000000000001" y="334.59999999999997" font-size="7.5" font-weight="bold" text-anchor="end" stroke="#000" stroke-width="0.3" >0.4</text>
<text x="515.8000000000001" y="405.2" font-size="7.5" font-weight="bold" text-anchor="end" stroke="#000" stroke-width="0.3" >0.7</text>
<text x="431.6" y="409.90000000000003" font-size="5.2" font-weight="bold" font-style="italic" stroke="#000" stroke-width="0.3" text-anchor="end">10<tspan font-size="3.8" dy="-2">0</tspan></text>
<text x="434.6" y="416.5" font-size="5.2" font-weight="bold" font-style="italic" stroke="#000" stroke-width="0.3" text-anchor="middle">10<tspan font-size="3.8" dy="-2">0</tspan></text>
<text x="431.6" y="389.90000000000003" font-size="5.2" font-weight="bold" font-style="italic" stroke="#000" stroke-width="0.3" text-anchor="end">10<tspan font-size="3.8" dy="-2">1</tspan></text>
<text x="455.35" y="416.5" font-size="5.2" font-weight="bold" font-style="italic" stroke="#000" stroke-width="0.3" text-anchor="middle">10<tspan font-size="3.8" dy="-2">1</tspan></text>
<text x="431.6" y="369.90000000000003" font-size="5.2" font-weight="bold" font-style="italic" stroke="#000" stroke-width="0.3" text-anchor="end">10<tspan font-size="3.8" dy="-2">2</tspan></text>
<text x="476.1" y="416.5" font-size="5.2" font-weight="bold" font-style="italic" stroke="#000" stroke-width="0.3" text-anchor="middle">10<tspan font-size="3.8" dy="-2">2</tspan></text>
<text x="431.6" y="349.90000000000003" font-size="5.2" font-weight="bold" font-style="italic" stroke="#000" stroke-width="0.3" text-anchor="end">10<tspan font-size="3.8" dy="-2">3</tspan></text>
<text x="496.85" y="416.5" font-size="5.2" font-weight="bold" font-style="italic" stroke="#000" stroke-width="0.3" text-anchor="middle">10<tspan font-size="3.8" dy="-2">3</tspan></text>
<text x="431.6" y="329.90000000000003" font-size="5.2" font-weight="bold" font-style="italic" stroke="#000" stroke-width="0.3" text-anchor="end">10<tspan font-size="3.8" dy="-2">4</tspan></text>
<text x="517.6" y="416.5" font-size="5.2" font-weight="bold" font-style="italic" stroke="#000" stroke-width="0.3" text-anchor="middle">10<tspan font-size="3.8" dy="-2">4</tspan></text>
<text transform="translate(425.20000000000005,360.64799999999997) rotate(-90)" font-size="5" font-weight="bold" stroke="#000" stroke-width="0.25" text-anchor="middle">FL4-H</text>
<text x="476.1" y="421.8" font-size="5" font-weight="bold" stroke="#000" stroke-width="0.25" text-anchor="middle">FL2-H</text>
<line x1="301.2" y1="328.6" x2="301.2" y2="370.8" stroke="#000" stroke-width="2.2"/>
<text transform="translate(305.8,391.3) rotate(-90)" font-size="14" stroke="#000" stroke-width="0.5" text-anchor="middle">IFN-γ</text>
<text x="329.7" y="439.7" font-size="14" font-weight="normal" text-anchor="start" stroke="#000" stroke-width="0.5" >IL-17</text>
<line x1="367.9" y1="436.5" x2="518.9" y2="436.5" stroke="#000" stroke-width="2.3"/>
</svg>
</body></html>
